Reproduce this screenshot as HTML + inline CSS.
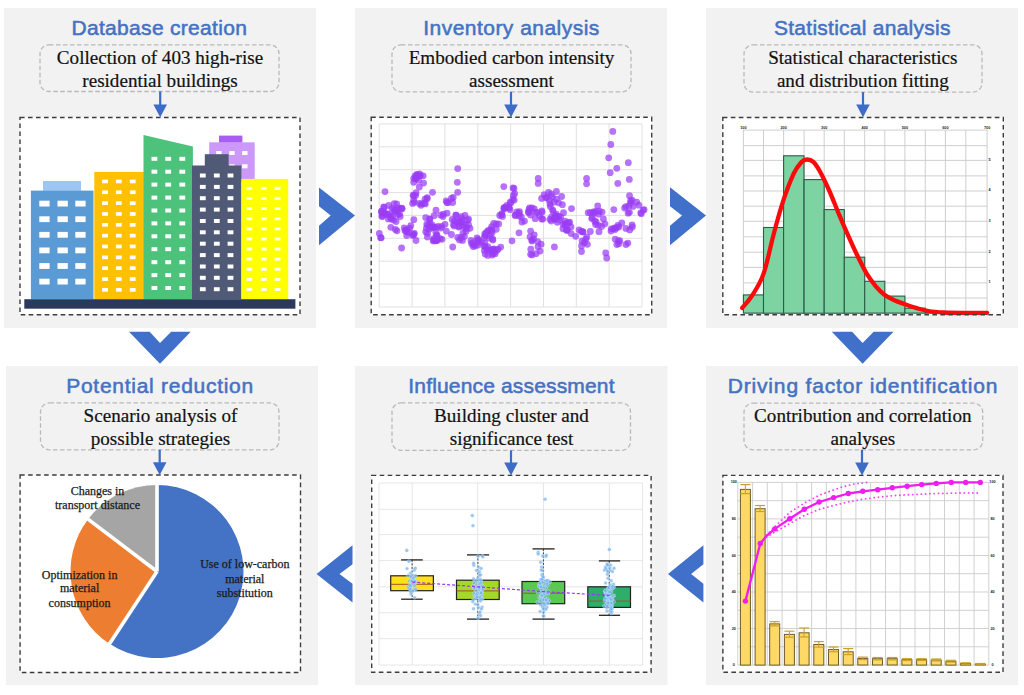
<!DOCTYPE html>
<html><head><meta charset="utf-8"><title>Embodied carbon workflow</title>
<style>
html,body{margin:0;padding:0;background:#fff;}
body{width:1024px;height:695px;overflow:hidden;}
svg{display:block;}
.ti{font-family:"Liberation Sans",Arial,sans-serif;font-size:21px;fill:#4472c4;stroke:#4472c4;stroke-width:0.55px;}
.bt{font-family:"Liberation Serif","Times New Roman",serif;font-size:19.1px;fill:#111;stroke:#111;stroke-width:0.2px;text-anchor:middle;}
.tk{font-family:"Liberation Sans",Arial,sans-serif;font-size:3.8px;font-weight:bold;fill:#222;text-anchor:middle;}
.pl{font-family:"Liberation Serif","Times New Roman",serif;font-size:12px;fill:#1a1a1a;stroke:#1a1a1a;stroke-width:0.25px;text-anchor:middle;}
</style></head>
<body>
<svg width="1024" height="695" viewBox="0 0 1024 695">
<rect x="4" y="8" width="312" height="320" fill="#f2f2f2"/>
<rect x="355" y="8" width="312" height="320" fill="#f2f2f2"/>
<rect x="706" y="8" width="312" height="320" fill="#f2f2f2"/>
<rect x="6" y="366" width="312" height="319" fill="#f2f2f2"/>
<rect x="355" y="366" width="312.5" height="319" fill="#f2f2f2"/>
<rect x="706" y="366" width="312" height="319" fill="#f2f2f2"/>
<text x="71.5" y="34.9" class="ti" textLength="175.4" lengthAdjust="spacing">Database creation</text>
<text x="423.2" y="34.9" class="ti" textLength="176.1" lengthAdjust="spacing">Inventory analysis</text>
<text x="774" y="34.9" class="ti" textLength="176.4" lengthAdjust="spacing">Statistical analysis</text>
<text x="66.2" y="392.9" class="ti" textLength="187" lengthAdjust="spacing">Potential reduction</text>
<text x="408.3" y="392.9" class="ti" textLength="206.2" lengthAdjust="spacing">Influence assessment</text>
<text x="727.7" y="392.9" class="ti" textLength="269.7" lengthAdjust="spacing">Driving factor identification</text>
<rect x="40" y="44.8" width="239" height="46.7" rx="9" ry="9" fill="none" stroke="#b9b9b9" stroke-width="1.3" stroke-dasharray="4.5 2.5"/>
<rect x="392" y="44.8" width="239" height="47" rx="9" ry="9" fill="none" stroke="#b9b9b9" stroke-width="1.3" stroke-dasharray="4.5 2.5"/>
<rect x="744" y="44.8" width="238" height="47.3" rx="9" ry="9" fill="none" stroke="#b9b9b9" stroke-width="1.3" stroke-dasharray="4.5 2.5"/>
<rect x="40.5" y="402.9" width="238.5" height="46.9" rx="9" ry="9" fill="none" stroke="#b9b9b9" stroke-width="1.3" stroke-dasharray="4.5 2.5"/>
<rect x="392" y="402.9" width="238.5" height="47.5" rx="9" ry="9" fill="none" stroke="#b9b9b9" stroke-width="1.3" stroke-dasharray="4.5 2.5"/>
<rect x="744" y="403.2" width="238.7" height="46.6" rx="9" ry="9" fill="none" stroke="#b9b9b9" stroke-width="1.3" stroke-dasharray="4.5 2.5"/>
<text x="160" y="64" class="bt">Collection of 403 high-rise</text>
<text x="160" y="86.7" class="bt">residential buildings</text>
<text x="511.5" y="64" class="bt">Embodied carbon intensity</text>
<text x="511.5" y="86.7" class="bt">assessment</text>
<text x="862.8" y="64" class="bt">Statistical characteristics</text>
<text x="862.8" y="86.7" class="bt">and distribution fitting</text>
<text x="160.5" y="422" class="bt">Scenario analysis of</text>
<text x="160.5" y="444.7" class="bt">possible strategies</text>
<text x="511.5" y="422" class="bt">Building cluster and</text>
<text x="511.5" y="444.7" class="bt">significance test</text>
<text x="862.8" y="422" class="bt">Contribution and correlation</text>
<text x="862.8" y="444.7" class="bt">analyses</text>
<rect x="159.1" y="91.5" width="2.2" height="13.5" fill="#3d6cc8"/>
<path d="M153.4 104.5L167 104.5L160.2 117.3Z" fill="#3d6cc8"/>
<rect x="509.9" y="91.8" width="2.2" height="13.2" fill="#3d6cc8"/>
<path d="M504.2 104.5L517.8 104.5L511 117.3Z" fill="#3d6cc8"/>
<rect x="861.9" y="92.1" width="2.2" height="12.9" fill="#3d6cc8"/>
<path d="M856.2 104.5L869.8 104.5L863 117.3Z" fill="#3d6cc8"/>
<rect x="158.6" y="449.8" width="2.2" height="12.9" fill="#3d6cc8"/>
<path d="M152.9 462.2L166.5 462.2L159.7 475Z" fill="#3d6cc8"/>
<rect x="509.9" y="450.4" width="2.2" height="12.7" fill="#3d6cc8"/>
<path d="M504.2 462.6L517.8 462.6L511 475.4Z" fill="#3d6cc8"/>
<rect x="860.9" y="449.8" width="2.2" height="13.3" fill="#3d6cc8"/>
<path d="M855.2 462.6L868.8 462.6L862 475.4Z" fill="#3d6cc8"/>
<rect x="20" y="117.5" width="280" height="197.3" fill="#ffffff"/>
<rect x="371.2" y="117.3" width="280.5" height="197.5" fill="#ffffff"/>
<rect x="722.8" y="117.5" width="280.5" height="197.2" fill="#ffffff"/>
<rect x="20.1" y="475" width="280.4" height="197.5" fill="#ffffff"/>
<rect x="371.7" y="475.4" width="279.4" height="196.9" fill="#ffffff"/>
<rect x="722.9" y="475.4" width="280.1" height="196.9" fill="#ffffff"/>
<polygon points="319,187.5 355,215.4 319,245.2 319,225.7 330.7,215.4 319,206.3" fill="#4070c9"/>
<polygon points="670,187.2 706,215.4 670,245.2 670,225.7 682,215.4 670,206.3" fill="#4070c9"/>
<polygon points="129,331.7 149.7,331.7 160,343 171.2,331.7 190.7,331.7 160,363.7" fill="#4070c9"/>
<polygon points="831.8,331.7 852.1,331.7 862.6,343 873.7,331.7 893.5,331.7 862.6,363.7" fill="#4070c9"/>
<polygon points="316.5,574 352.5,545.3 352.5,564.3 339.5,574 352.5,583.8 352.5,602.6" fill="#4070c9"/>
<polygon points="668,574 703.4,545.3 703.4,564.3 691.1,574 703.4,583.8 703.4,602.6" fill="#4070c9"/>
<rect x="209.2" y="142.3" width="45.5" height="40" fill="#cc99fa"/>
<rect x="219" y="135.6" width="23.4" height="6.8" fill="#a95ef2"/>
<rect x="216.2" y="151" width="5.4" height="4" fill="#ffffff"/>
<rect x="229.3" y="151" width="5.4" height="4" fill="#ffffff"/>
<rect x="242.1" y="151" width="5.4" height="4" fill="#ffffff"/>
<rect x="229.3" y="164.3" width="5.4" height="4" fill="#ffffff"/>
<rect x="242.1" y="164.3" width="5.4" height="4" fill="#ffffff"/>
<rect x="43" y="181" width="38" height="9.8" fill="#9dc6f2"/>
<rect x="30.9" y="190.6" width="62.6" height="108.6" fill="#5b9bd5"/>
<rect x="39.3" y="200.7" width="10.3" height="5.8" fill="#ffffff"/>
<rect x="57.5" y="200.7" width="10.3" height="5.8" fill="#ffffff"/>
<rect x="75.3" y="200.7" width="10.3" height="5.8" fill="#ffffff"/>
<rect x="39.3" y="216.3" width="10.3" height="5.8" fill="#ffffff"/>
<rect x="57.5" y="216.3" width="10.3" height="5.8" fill="#ffffff"/>
<rect x="75.3" y="216.3" width="10.3" height="5.8" fill="#ffffff"/>
<rect x="39.3" y="231.9" width="10.3" height="5.8" fill="#ffffff"/>
<rect x="57.5" y="231.9" width="10.3" height="5.8" fill="#ffffff"/>
<rect x="75.3" y="231.9" width="10.3" height="5.8" fill="#ffffff"/>
<rect x="39.3" y="247.5" width="10.3" height="5.8" fill="#ffffff"/>
<rect x="57.5" y="247.5" width="10.3" height="5.8" fill="#ffffff"/>
<rect x="75.3" y="247.5" width="10.3" height="5.8" fill="#ffffff"/>
<rect x="39.3" y="263.1" width="10.3" height="5.8" fill="#ffffff"/>
<rect x="57.5" y="263.1" width="10.3" height="5.8" fill="#ffffff"/>
<rect x="75.3" y="263.1" width="10.3" height="5.8" fill="#ffffff"/>
<rect x="39.3" y="278.7" width="10.3" height="5.8" fill="#ffffff"/>
<rect x="57.5" y="278.7" width="10.3" height="5.8" fill="#ffffff"/>
<rect x="75.3" y="278.7" width="10.3" height="5.8" fill="#ffffff"/>
<rect x="94.3" y="171.9" width="49.6" height="127.3" fill="#ffc000"/>
<rect x="102.1" y="179.6" width="5.8" height="3.7" fill="#ffffff"/>
<rect x="115.9" y="179.6" width="5.8" height="3.7" fill="#ffffff"/>
<rect x="129.8" y="179.6" width="5.8" height="3.7" fill="#ffffff"/>
<rect x="102.1" y="190.4" width="5.8" height="3.7" fill="#ffffff"/>
<rect x="115.9" y="190.4" width="5.8" height="3.7" fill="#ffffff"/>
<rect x="129.8" y="190.4" width="5.8" height="3.7" fill="#ffffff"/>
<rect x="102.1" y="201.3" width="5.8" height="3.7" fill="#ffffff"/>
<rect x="115.9" y="201.3" width="5.8" height="3.7" fill="#ffffff"/>
<rect x="129.8" y="201.3" width="5.8" height="3.7" fill="#ffffff"/>
<rect x="102.1" y="212.1" width="5.8" height="3.7" fill="#ffffff"/>
<rect x="115.9" y="212.1" width="5.8" height="3.7" fill="#ffffff"/>
<rect x="129.8" y="212.1" width="5.8" height="3.7" fill="#ffffff"/>
<rect x="102.1" y="223" width="5.8" height="3.7" fill="#ffffff"/>
<rect x="115.9" y="223" width="5.8" height="3.7" fill="#ffffff"/>
<rect x="129.8" y="223" width="5.8" height="3.7" fill="#ffffff"/>
<rect x="102.1" y="233.8" width="5.8" height="3.7" fill="#ffffff"/>
<rect x="115.9" y="233.8" width="5.8" height="3.7" fill="#ffffff"/>
<rect x="129.8" y="233.8" width="5.8" height="3.7" fill="#ffffff"/>
<rect x="102.1" y="244.6" width="5.8" height="3.7" fill="#ffffff"/>
<rect x="115.9" y="244.6" width="5.8" height="3.7" fill="#ffffff"/>
<rect x="129.8" y="244.6" width="5.8" height="3.7" fill="#ffffff"/>
<rect x="102.1" y="255.5" width="5.8" height="3.7" fill="#ffffff"/>
<rect x="115.9" y="255.5" width="5.8" height="3.7" fill="#ffffff"/>
<rect x="129.8" y="255.5" width="5.8" height="3.7" fill="#ffffff"/>
<rect x="102.1" y="266.3" width="5.8" height="3.7" fill="#ffffff"/>
<rect x="115.9" y="266.3" width="5.8" height="3.7" fill="#ffffff"/>
<rect x="129.8" y="266.3" width="5.8" height="3.7" fill="#ffffff"/>
<rect x="102.1" y="277.2" width="5.8" height="3.7" fill="#ffffff"/>
<rect x="115.9" y="277.2" width="5.8" height="3.7" fill="#ffffff"/>
<rect x="129.8" y="277.2" width="5.8" height="3.7" fill="#ffffff"/>
<rect x="102.1" y="288" width="5.8" height="3.7" fill="#ffffff"/>
<rect x="115.9" y="288" width="5.8" height="3.7" fill="#ffffff"/>
<rect x="129.8" y="288" width="5.8" height="3.7" fill="#ffffff"/>
<polygon points="143.5,135 192.9,146.5 192.9,299.2 143.5,299.2" fill="#4cc27b"/>
<rect x="151.5" y="156.8" width="5.8" height="4" fill="#ffffff"/>
<rect x="165.3" y="156.8" width="5.8" height="4" fill="#ffffff"/>
<rect x="179.4" y="156.8" width="5.8" height="4" fill="#ffffff"/>
<rect x="151.5" y="169.7" width="5.8" height="4" fill="#ffffff"/>
<rect x="165.3" y="169.7" width="5.8" height="4" fill="#ffffff"/>
<rect x="179.4" y="169.7" width="5.8" height="4" fill="#ffffff"/>
<rect x="151.5" y="182.6" width="5.8" height="4" fill="#ffffff"/>
<rect x="165.3" y="182.6" width="5.8" height="4" fill="#ffffff"/>
<rect x="179.4" y="182.6" width="5.8" height="4" fill="#ffffff"/>
<rect x="151.5" y="195.6" width="5.8" height="4" fill="#ffffff"/>
<rect x="165.3" y="195.6" width="5.8" height="4" fill="#ffffff"/>
<rect x="179.4" y="195.6" width="5.8" height="4" fill="#ffffff"/>
<rect x="151.5" y="208.5" width="5.8" height="4" fill="#ffffff"/>
<rect x="165.3" y="208.5" width="5.8" height="4" fill="#ffffff"/>
<rect x="179.4" y="208.5" width="5.8" height="4" fill="#ffffff"/>
<rect x="151.5" y="221.4" width="5.8" height="4" fill="#ffffff"/>
<rect x="165.3" y="221.4" width="5.8" height="4" fill="#ffffff"/>
<rect x="179.4" y="221.4" width="5.8" height="4" fill="#ffffff"/>
<rect x="151.5" y="234.3" width="5.8" height="4" fill="#ffffff"/>
<rect x="165.3" y="234.3" width="5.8" height="4" fill="#ffffff"/>
<rect x="179.4" y="234.3" width="5.8" height="4" fill="#ffffff"/>
<rect x="151.5" y="247.2" width="5.8" height="4" fill="#ffffff"/>
<rect x="165.3" y="247.2" width="5.8" height="4" fill="#ffffff"/>
<rect x="179.4" y="247.2" width="5.8" height="4" fill="#ffffff"/>
<rect x="151.5" y="260.2" width="5.8" height="4" fill="#ffffff"/>
<rect x="165.3" y="260.2" width="5.8" height="4" fill="#ffffff"/>
<rect x="179.4" y="260.2" width="5.8" height="4" fill="#ffffff"/>
<rect x="151.5" y="273.1" width="5.8" height="4" fill="#ffffff"/>
<rect x="165.3" y="273.1" width="5.8" height="4" fill="#ffffff"/>
<rect x="179.4" y="273.1" width="5.8" height="4" fill="#ffffff"/>
<rect x="151.5" y="286" width="5.8" height="4" fill="#ffffff"/>
<rect x="165.3" y="286" width="5.8" height="4" fill="#ffffff"/>
<rect x="179.4" y="286" width="5.8" height="4" fill="#ffffff"/>
<rect x="204.8" y="154.2" width="23.8" height="12" fill="#505a77"/>
<rect x="192" y="165.5" width="49.4" height="133.7" fill="#505a77"/>
<rect x="199.9" y="173.5" width="5.8" height="4" fill="#ffffff"/>
<rect x="213.9" y="173.5" width="5.8" height="4" fill="#ffffff"/>
<rect x="227.6" y="173.5" width="5.8" height="4" fill="#ffffff"/>
<rect x="199.9" y="184.9" width="5.8" height="4" fill="#ffffff"/>
<rect x="213.9" y="184.9" width="5.8" height="4" fill="#ffffff"/>
<rect x="227.6" y="184.9" width="5.8" height="4" fill="#ffffff"/>
<rect x="199.9" y="196.2" width="5.8" height="4" fill="#ffffff"/>
<rect x="213.9" y="196.2" width="5.8" height="4" fill="#ffffff"/>
<rect x="227.6" y="196.2" width="5.8" height="4" fill="#ffffff"/>
<rect x="199.9" y="207.6" width="5.8" height="4" fill="#ffffff"/>
<rect x="213.9" y="207.6" width="5.8" height="4" fill="#ffffff"/>
<rect x="227.6" y="207.6" width="5.8" height="4" fill="#ffffff"/>
<rect x="199.9" y="219" width="5.8" height="4" fill="#ffffff"/>
<rect x="213.9" y="219" width="5.8" height="4" fill="#ffffff"/>
<rect x="227.6" y="219" width="5.8" height="4" fill="#ffffff"/>
<rect x="199.9" y="230.3" width="5.8" height="4" fill="#ffffff"/>
<rect x="213.9" y="230.3" width="5.8" height="4" fill="#ffffff"/>
<rect x="227.6" y="230.3" width="5.8" height="4" fill="#ffffff"/>
<rect x="199.9" y="241.7" width="5.8" height="4" fill="#ffffff"/>
<rect x="213.9" y="241.7" width="5.8" height="4" fill="#ffffff"/>
<rect x="227.6" y="241.7" width="5.8" height="4" fill="#ffffff"/>
<rect x="199.9" y="253.1" width="5.8" height="4" fill="#ffffff"/>
<rect x="213.9" y="253.1" width="5.8" height="4" fill="#ffffff"/>
<rect x="227.6" y="253.1" width="5.8" height="4" fill="#ffffff"/>
<rect x="199.9" y="264.5" width="5.8" height="4" fill="#ffffff"/>
<rect x="213.9" y="264.5" width="5.8" height="4" fill="#ffffff"/>
<rect x="227.6" y="264.5" width="5.8" height="4" fill="#ffffff"/>
<rect x="199.9" y="275.8" width="5.8" height="4" fill="#ffffff"/>
<rect x="213.9" y="275.8" width="5.8" height="4" fill="#ffffff"/>
<rect x="227.6" y="275.8" width="5.8" height="4" fill="#ffffff"/>
<rect x="199.9" y="287.2" width="5.8" height="4" fill="#ffffff"/>
<rect x="213.9" y="287.2" width="5.8" height="4" fill="#ffffff"/>
<rect x="227.6" y="287.2" width="5.8" height="4" fill="#ffffff"/>
<rect x="241.4" y="178.9" width="46.8" height="120.3" fill="#ffff00"/>
<rect x="246.5" y="186.8" width="5.7" height="3" fill="#ffffff"/>
<rect x="260.9" y="186.8" width="5.7" height="3" fill="#ffffff"/>
<rect x="274.7" y="186.8" width="5.7" height="3" fill="#ffffff"/>
<rect x="246.5" y="196.9" width="5.7" height="3" fill="#ffffff"/>
<rect x="260.9" y="196.9" width="5.7" height="3" fill="#ffffff"/>
<rect x="274.7" y="196.9" width="5.7" height="3" fill="#ffffff"/>
<rect x="246.5" y="207" width="5.7" height="3" fill="#ffffff"/>
<rect x="260.9" y="207" width="5.7" height="3" fill="#ffffff"/>
<rect x="274.7" y="207" width="5.7" height="3" fill="#ffffff"/>
<rect x="246.5" y="217.2" width="5.7" height="3" fill="#ffffff"/>
<rect x="260.9" y="217.2" width="5.7" height="3" fill="#ffffff"/>
<rect x="274.7" y="217.2" width="5.7" height="3" fill="#ffffff"/>
<rect x="246.5" y="227.3" width="5.7" height="3" fill="#ffffff"/>
<rect x="260.9" y="227.3" width="5.7" height="3" fill="#ffffff"/>
<rect x="274.7" y="227.3" width="5.7" height="3" fill="#ffffff"/>
<rect x="246.5" y="237.4" width="5.7" height="3" fill="#ffffff"/>
<rect x="260.9" y="237.4" width="5.7" height="3" fill="#ffffff"/>
<rect x="274.7" y="237.4" width="5.7" height="3" fill="#ffffff"/>
<rect x="246.5" y="247.5" width="5.7" height="3" fill="#ffffff"/>
<rect x="260.9" y="247.5" width="5.7" height="3" fill="#ffffff"/>
<rect x="274.7" y="247.5" width="5.7" height="3" fill="#ffffff"/>
<rect x="246.5" y="257.6" width="5.7" height="3" fill="#ffffff"/>
<rect x="260.9" y="257.6" width="5.7" height="3" fill="#ffffff"/>
<rect x="274.7" y="257.6" width="5.7" height="3" fill="#ffffff"/>
<rect x="246.5" y="267.8" width="5.7" height="3" fill="#ffffff"/>
<rect x="260.9" y="267.8" width="5.7" height="3" fill="#ffffff"/>
<rect x="274.7" y="267.8" width="5.7" height="3" fill="#ffffff"/>
<rect x="246.5" y="277.9" width="5.7" height="3" fill="#ffffff"/>
<rect x="260.9" y="277.9" width="5.7" height="3" fill="#ffffff"/>
<rect x="274.7" y="277.9" width="5.7" height="3" fill="#ffffff"/>
<rect x="246.5" y="288" width="5.7" height="3" fill="#ffffff"/>
<rect x="260.9" y="288" width="5.7" height="3" fill="#ffffff"/>
<rect x="274.7" y="288" width="5.7" height="3" fill="#ffffff"/>
<rect x="24.3" y="299.2" width="271.1" height="9.5" fill="#2b3a5c"/>
<line x1="379.2" y1="123.9" x2="379.2" y2="307" stroke="#d9d9d9" stroke-width="0.8"/>
<line x1="412.1" y1="123.9" x2="412.1" y2="307" stroke="#d9d9d9" stroke-width="0.8"/>
<line x1="444.9" y1="123.9" x2="444.9" y2="307" stroke="#d9d9d9" stroke-width="0.8"/>
<line x1="477.8" y1="123.9" x2="477.8" y2="307" stroke="#d9d9d9" stroke-width="0.8"/>
<line x1="510.6" y1="123.9" x2="510.6" y2="307" stroke="#d9d9d9" stroke-width="0.8"/>
<line x1="543.5" y1="123.9" x2="543.5" y2="307" stroke="#d9d9d9" stroke-width="0.8"/>
<line x1="576.3" y1="123.9" x2="576.3" y2="307" stroke="#d9d9d9" stroke-width="0.8"/>
<line x1="609.1" y1="123.9" x2="609.1" y2="307" stroke="#d9d9d9" stroke-width="0.8"/>
<line x1="642" y1="123.9" x2="642" y2="307" stroke="#d9d9d9" stroke-width="0.8"/>
<line x1="379.2" y1="123.9" x2="642" y2="123.9" stroke="#d9d9d9" stroke-width="0.8"/>
<line x1="379.2" y1="146.8" x2="642" y2="146.8" stroke="#d9d9d9" stroke-width="0.8"/>
<line x1="379.2" y1="169.7" x2="642" y2="169.7" stroke="#d9d9d9" stroke-width="0.8"/>
<line x1="379.2" y1="192.6" x2="642" y2="192.6" stroke="#d9d9d9" stroke-width="0.8"/>
<line x1="379.2" y1="215.4" x2="642" y2="215.4" stroke="#d9d9d9" stroke-width="0.8"/>
<line x1="379.2" y1="238.3" x2="642" y2="238.3" stroke="#d9d9d9" stroke-width="0.8"/>
<line x1="379.2" y1="261.2" x2="642" y2="261.2" stroke="#d9d9d9" stroke-width="0.8"/>
<line x1="379.2" y1="284.1" x2="642" y2="284.1" stroke="#d9d9d9" stroke-width="0.8"/>
<line x1="379.2" y1="307" x2="642" y2="307" stroke="#d9d9d9" stroke-width="0.8"/>
<circle cx="446.2" cy="200.9" r="3.4" fill="#9a3cf5" fill-opacity="0.72"/>
<circle cx="640.8" cy="212.8" r="3.4" fill="#9a3cf5" fill-opacity="0.72"/>
<circle cx="427.6" cy="233.3" r="3.4" fill="#9a3cf5" fill-opacity="0.72"/>
<circle cx="435.5" cy="227.2" r="3.4" fill="#9a3cf5" fill-opacity="0.72"/>
<circle cx="561.6" cy="196.5" r="3.4" fill="#9a3cf5" fill-opacity="0.72"/>
<circle cx="556.6" cy="216.9" r="3.4" fill="#9a3cf5" fill-opacity="0.72"/>
<circle cx="503.8" cy="208.2" r="3.4" fill="#9a3cf5" fill-opacity="0.72"/>
<circle cx="415.8" cy="178.6" r="3.4" fill="#9a3cf5" fill-opacity="0.72"/>
<circle cx="585.9" cy="239.1" r="3.4" fill="#9a3cf5" fill-opacity="0.72"/>
<circle cx="396.1" cy="221.5" r="3.4" fill="#9a3cf5" fill-opacity="0.72"/>
<circle cx="460.2" cy="221.8" r="3.4" fill="#9a3cf5" fill-opacity="0.72"/>
<circle cx="608.7" cy="157.8" r="3.4" fill="#9a3cf5" fill-opacity="0.72"/>
<circle cx="475.2" cy="246.1" r="3.4" fill="#9a3cf5" fill-opacity="0.72"/>
<circle cx="413.7" cy="199.8" r="3.4" fill="#9a3cf5" fill-opacity="0.72"/>
<circle cx="425" cy="199.2" r="3.4" fill="#9a3cf5" fill-opacity="0.72"/>
<circle cx="554.2" cy="218.1" r="3.4" fill="#9a3cf5" fill-opacity="0.72"/>
<circle cx="625.9" cy="206.6" r="3.4" fill="#9a3cf5" fill-opacity="0.72"/>
<circle cx="515.1" cy="215.5" r="3.4" fill="#9a3cf5" fill-opacity="0.72"/>
<circle cx="519.4" cy="211.7" r="3.4" fill="#9a3cf5" fill-opacity="0.72"/>
<circle cx="379.3" cy="233.5" r="3.4" fill="#9a3cf5" fill-opacity="0.72"/>
<circle cx="504.6" cy="207.5" r="3.4" fill="#9a3cf5" fill-opacity="0.72"/>
<circle cx="556.2" cy="214.1" r="3.4" fill="#9a3cf5" fill-opacity="0.72"/>
<circle cx="392.4" cy="215.8" r="3.4" fill="#9a3cf5" fill-opacity="0.72"/>
<circle cx="530.6" cy="231.1" r="3.4" fill="#9a3cf5" fill-opacity="0.72"/>
<circle cx="519.3" cy="216" r="3.4" fill="#9a3cf5" fill-opacity="0.72"/>
<circle cx="563.5" cy="212.7" r="3.4" fill="#9a3cf5" fill-opacity="0.72"/>
<circle cx="632.1" cy="200.1" r="3.4" fill="#9a3cf5" fill-opacity="0.72"/>
<circle cx="581.5" cy="251.5" r="3.4" fill="#9a3cf5" fill-opacity="0.72"/>
<circle cx="382.3" cy="216.6" r="3.4" fill="#9a3cf5" fill-opacity="0.72"/>
<circle cx="551.2" cy="194" r="3.4" fill="#9a3cf5" fill-opacity="0.72"/>
<circle cx="443.3" cy="214.1" r="3.4" fill="#9a3cf5" fill-opacity="0.72"/>
<circle cx="629.7" cy="229.9" r="3.4" fill="#9a3cf5" fill-opacity="0.72"/>
<circle cx="550.3" cy="206.4" r="3.4" fill="#9a3cf5" fill-opacity="0.72"/>
<circle cx="558.7" cy="202.8" r="3.4" fill="#9a3cf5" fill-opacity="0.72"/>
<circle cx="388.3" cy="218.9" r="3.4" fill="#9a3cf5" fill-opacity="0.72"/>
<circle cx="510.8" cy="203" r="3.4" fill="#9a3cf5" fill-opacity="0.72"/>
<circle cx="562.4" cy="204.7" r="3.4" fill="#9a3cf5" fill-opacity="0.72"/>
<circle cx="644.1" cy="209.7" r="3.4" fill="#9a3cf5" fill-opacity="0.72"/>
<circle cx="495.1" cy="253.8" r="3.4" fill="#9a3cf5" fill-opacity="0.72"/>
<circle cx="541.6" cy="198.4" r="3.4" fill="#9a3cf5" fill-opacity="0.72"/>
<circle cx="556.4" cy="191.5" r="3.4" fill="#9a3cf5" fill-opacity="0.72"/>
<circle cx="581.5" cy="245.9" r="3.4" fill="#9a3cf5" fill-opacity="0.72"/>
<circle cx="384.5" cy="212.3" r="3.4" fill="#9a3cf5" fill-opacity="0.72"/>
<circle cx="466.7" cy="228.5" r="3.4" fill="#9a3cf5" fill-opacity="0.72"/>
<circle cx="395.4" cy="229.4" r="3.4" fill="#9a3cf5" fill-opacity="0.72"/>
<circle cx="492.8" cy="253.5" r="3.4" fill="#9a3cf5" fill-opacity="0.72"/>
<circle cx="624.6" cy="208" r="3.4" fill="#9a3cf5" fill-opacity="0.72"/>
<circle cx="416.1" cy="192.7" r="3.4" fill="#9a3cf5" fill-opacity="0.72"/>
<circle cx="472.9" cy="242.7" r="3.4" fill="#9a3cf5" fill-opacity="0.72"/>
<circle cx="514" cy="188.5" r="3.4" fill="#9a3cf5" fill-opacity="0.72"/>
<circle cx="465" cy="215.5" r="3.4" fill="#9a3cf5" fill-opacity="0.72"/>
<circle cx="588.2" cy="212.7" r="3.4" fill="#9a3cf5" fill-opacity="0.72"/>
<circle cx="400.9" cy="208.1" r="3.4" fill="#9a3cf5" fill-opacity="0.72"/>
<circle cx="385" cy="191.6" r="3.4" fill="#9a3cf5" fill-opacity="0.72"/>
<circle cx="613.8" cy="209.6" r="3.4" fill="#9a3cf5" fill-opacity="0.72"/>
<circle cx="440.7" cy="215.2" r="3.4" fill="#9a3cf5" fill-opacity="0.72"/>
<circle cx="429.7" cy="218.8" r="3.4" fill="#9a3cf5" fill-opacity="0.72"/>
<circle cx="567.4" cy="230" r="3.4" fill="#9a3cf5" fill-opacity="0.72"/>
<circle cx="413.4" cy="234.6" r="3.4" fill="#9a3cf5" fill-opacity="0.72"/>
<circle cx="408.7" cy="232.4" r="3.4" fill="#9a3cf5" fill-opacity="0.72"/>
<circle cx="611" cy="231.1" r="3.4" fill="#9a3cf5" fill-opacity="0.72"/>
<circle cx="484.7" cy="234.1" r="3.4" fill="#9a3cf5" fill-opacity="0.72"/>
<circle cx="512" cy="240.8" r="3.4" fill="#9a3cf5" fill-opacity="0.72"/>
<circle cx="381.4" cy="211.7" r="3.4" fill="#9a3cf5" fill-opacity="0.72"/>
<circle cx="426.4" cy="228.1" r="3.4" fill="#9a3cf5" fill-opacity="0.72"/>
<circle cx="602.1" cy="212.1" r="3.4" fill="#9a3cf5" fill-opacity="0.72"/>
<circle cx="504.2" cy="209.1" r="3.4" fill="#9a3cf5" fill-opacity="0.72"/>
<circle cx="596.1" cy="222" r="3.4" fill="#9a3cf5" fill-opacity="0.72"/>
<circle cx="616.8" cy="168.3" r="3.4" fill="#9a3cf5" fill-opacity="0.72"/>
<circle cx="462.5" cy="240.4" r="3.4" fill="#9a3cf5" fill-opacity="0.72"/>
<circle cx="553.9" cy="202.2" r="3.4" fill="#9a3cf5" fill-opacity="0.72"/>
<circle cx="629.3" cy="179.4" r="3.4" fill="#9a3cf5" fill-opacity="0.72"/>
<circle cx="493.3" cy="249.8" r="3.4" fill="#9a3cf5" fill-opacity="0.72"/>
<circle cx="487.8" cy="255.4" r="3.4" fill="#9a3cf5" fill-opacity="0.72"/>
<circle cx="473.1" cy="246.6" r="3.4" fill="#9a3cf5" fill-opacity="0.72"/>
<circle cx="509.1" cy="207.9" r="3.4" fill="#9a3cf5" fill-opacity="0.72"/>
<circle cx="493.9" cy="248.8" r="3.4" fill="#9a3cf5" fill-opacity="0.72"/>
<circle cx="566.6" cy="229.9" r="3.4" fill="#9a3cf5" fill-opacity="0.72"/>
<circle cx="441.8" cy="226.4" r="3.4" fill="#9a3cf5" fill-opacity="0.72"/>
<circle cx="459" cy="226.4" r="3.4" fill="#9a3cf5" fill-opacity="0.72"/>
<circle cx="454.3" cy="221.1" r="3.4" fill="#9a3cf5" fill-opacity="0.72"/>
<circle cx="521.3" cy="217" r="3.4" fill="#9a3cf5" fill-opacity="0.72"/>
<circle cx="484.2" cy="246.1" r="3.4" fill="#9a3cf5" fill-opacity="0.72"/>
<circle cx="538.2" cy="183.4" r="3.4" fill="#9a3cf5" fill-opacity="0.72"/>
<circle cx="436.9" cy="234.8" r="3.4" fill="#9a3cf5" fill-opacity="0.72"/>
<circle cx="530.8" cy="249.2" r="3.4" fill="#9a3cf5" fill-opacity="0.72"/>
<circle cx="434" cy="238.5" r="3.4" fill="#9a3cf5" fill-opacity="0.72"/>
<circle cx="571.5" cy="208.6" r="3.4" fill="#9a3cf5" fill-opacity="0.72"/>
<circle cx="451.4" cy="234.5" r="3.4" fill="#9a3cf5" fill-opacity="0.72"/>
<circle cx="402.2" cy="208.7" r="3.4" fill="#9a3cf5" fill-opacity="0.72"/>
<circle cx="558.6" cy="216.3" r="3.4" fill="#9a3cf5" fill-opacity="0.72"/>
<circle cx="595.7" cy="211.4" r="3.4" fill="#9a3cf5" fill-opacity="0.72"/>
<circle cx="429.5" cy="229" r="3.4" fill="#9a3cf5" fill-opacity="0.72"/>
<circle cx="553.1" cy="211.5" r="3.4" fill="#9a3cf5" fill-opacity="0.72"/>
<circle cx="429.8" cy="219.3" r="3.4" fill="#9a3cf5" fill-opacity="0.72"/>
<circle cx="394.9" cy="210.4" r="3.4" fill="#9a3cf5" fill-opacity="0.72"/>
<circle cx="627.9" cy="243.1" r="3.4" fill="#9a3cf5" fill-opacity="0.72"/>
<circle cx="447" cy="213.2" r="3.4" fill="#9a3cf5" fill-opacity="0.72"/>
<circle cx="502.5" cy="216.4" r="3.4" fill="#9a3cf5" fill-opacity="0.72"/>
<circle cx="397" cy="230.8" r="3.4" fill="#9a3cf5" fill-opacity="0.72"/>
<circle cx="427.4" cy="237" r="3.4" fill="#9a3cf5" fill-opacity="0.72"/>
<circle cx="615.2" cy="229.5" r="3.4" fill="#9a3cf5" fill-opacity="0.72"/>
<circle cx="391.2" cy="219.1" r="3.4" fill="#9a3cf5" fill-opacity="0.72"/>
<circle cx="440.7" cy="228" r="3.4" fill="#9a3cf5" fill-opacity="0.72"/>
<circle cx="438.1" cy="226.3" r="3.4" fill="#9a3cf5" fill-opacity="0.72"/>
<circle cx="530.6" cy="254.3" r="3.4" fill="#9a3cf5" fill-opacity="0.72"/>
<circle cx="434.4" cy="227.3" r="3.4" fill="#9a3cf5" fill-opacity="0.72"/>
<circle cx="544.2" cy="194.7" r="3.4" fill="#9a3cf5" fill-opacity="0.72"/>
<circle cx="485.1" cy="246.8" r="3.4" fill="#9a3cf5" fill-opacity="0.72"/>
<circle cx="452.2" cy="219.4" r="3.4" fill="#9a3cf5" fill-opacity="0.72"/>
<circle cx="524.5" cy="221.1" r="3.4" fill="#9a3cf5" fill-opacity="0.72"/>
<circle cx="535.3" cy="212.3" r="3.4" fill="#9a3cf5" fill-opacity="0.72"/>
<circle cx="461.3" cy="216.6" r="3.4" fill="#9a3cf5" fill-opacity="0.72"/>
<circle cx="381.7" cy="211.2" r="3.4" fill="#9a3cf5" fill-opacity="0.72"/>
<circle cx="488.4" cy="230.5" r="3.4" fill="#9a3cf5" fill-opacity="0.72"/>
<circle cx="454.2" cy="226" r="3.4" fill="#9a3cf5" fill-opacity="0.72"/>
<circle cx="601.6" cy="226.4" r="3.4" fill="#9a3cf5" fill-opacity="0.72"/>
<circle cx="414.3" cy="202.3" r="3.4" fill="#9a3cf5" fill-opacity="0.72"/>
<circle cx="611.3" cy="228.8" r="3.4" fill="#9a3cf5" fill-opacity="0.72"/>
<circle cx="628.3" cy="162.7" r="3.4" fill="#9a3cf5" fill-opacity="0.72"/>
<circle cx="491.1" cy="250.6" r="3.4" fill="#9a3cf5" fill-opacity="0.72"/>
<circle cx="629.4" cy="212.3" r="3.4" fill="#9a3cf5" fill-opacity="0.72"/>
<circle cx="555.7" cy="215.9" r="3.4" fill="#9a3cf5" fill-opacity="0.72"/>
<circle cx="501.6" cy="214.7" r="3.4" fill="#9a3cf5" fill-opacity="0.72"/>
<circle cx="406.7" cy="235.6" r="3.4" fill="#9a3cf5" fill-opacity="0.72"/>
<circle cx="583" cy="232.1" r="3.4" fill="#9a3cf5" fill-opacity="0.72"/>
<circle cx="514.2" cy="200.1" r="3.4" fill="#9a3cf5" fill-opacity="0.72"/>
<circle cx="550" cy="203.9" r="3.4" fill="#9a3cf5" fill-opacity="0.72"/>
<circle cx="618.8" cy="227.1" r="3.4" fill="#9a3cf5" fill-opacity="0.72"/>
<circle cx="630.6" cy="200.7" r="3.4" fill="#9a3cf5" fill-opacity="0.72"/>
<circle cx="614.5" cy="228" r="3.4" fill="#9a3cf5" fill-opacity="0.72"/>
<circle cx="633" cy="206.4" r="3.4" fill="#9a3cf5" fill-opacity="0.72"/>
<circle cx="401.6" cy="248" r="3.4" fill="#9a3cf5" fill-opacity="0.72"/>
<circle cx="432.1" cy="224.8" r="3.4" fill="#9a3cf5" fill-opacity="0.72"/>
<circle cx="419.5" cy="174" r="3.4" fill="#9a3cf5" fill-opacity="0.72"/>
<circle cx="505" cy="207.7" r="3.4" fill="#9a3cf5" fill-opacity="0.72"/>
<circle cx="496.3" cy="224" r="3.4" fill="#9a3cf5" fill-opacity="0.72"/>
<circle cx="407.1" cy="229.8" r="3.4" fill="#9a3cf5" fill-opacity="0.72"/>
<circle cx="446.9" cy="202.6" r="3.4" fill="#9a3cf5" fill-opacity="0.72"/>
<circle cx="530.5" cy="215.1" r="3.4" fill="#9a3cf5" fill-opacity="0.72"/>
<circle cx="528.5" cy="212.5" r="3.4" fill="#9a3cf5" fill-opacity="0.72"/>
<circle cx="529" cy="209.5" r="3.4" fill="#9a3cf5" fill-opacity="0.72"/>
<circle cx="485.2" cy="254" r="3.4" fill="#9a3cf5" fill-opacity="0.72"/>
<circle cx="406.8" cy="231.8" r="3.4" fill="#9a3cf5" fill-opacity="0.72"/>
<circle cx="516.8" cy="211.9" r="3.4" fill="#9a3cf5" fill-opacity="0.72"/>
<circle cx="586.8" cy="236.9" r="3.4" fill="#9a3cf5" fill-opacity="0.72"/>
<circle cx="617.8" cy="183.4" r="3.4" fill="#9a3cf5" fill-opacity="0.72"/>
<circle cx="415.7" cy="178.4" r="3.4" fill="#9a3cf5" fill-opacity="0.72"/>
<circle cx="413.6" cy="195.6" r="3.4" fill="#9a3cf5" fill-opacity="0.72"/>
<circle cx="471" cy="240.4" r="3.4" fill="#9a3cf5" fill-opacity="0.72"/>
<circle cx="598.4" cy="225.3" r="3.4" fill="#9a3cf5" fill-opacity="0.72"/>
<circle cx="586.6" cy="183.8" r="3.4" fill="#9a3cf5" fill-opacity="0.72"/>
<circle cx="618" cy="225.4" r="3.4" fill="#9a3cf5" fill-opacity="0.72"/>
<circle cx="425.3" cy="203.9" r="3.4" fill="#9a3cf5" fill-opacity="0.72"/>
<circle cx="562.9" cy="228.8" r="3.4" fill="#9a3cf5" fill-opacity="0.72"/>
<circle cx="541.1" cy="244.2" r="3.4" fill="#9a3cf5" fill-opacity="0.72"/>
<circle cx="453.2" cy="197.4" r="3.4" fill="#9a3cf5" fill-opacity="0.72"/>
<circle cx="390.2" cy="215.9" r="3.4" fill="#9a3cf5" fill-opacity="0.72"/>
<circle cx="401.7" cy="208.3" r="3.4" fill="#9a3cf5" fill-opacity="0.72"/>
<circle cx="423.2" cy="175.8" r="3.4" fill="#9a3cf5" fill-opacity="0.72"/>
<circle cx="551.6" cy="217" r="3.4" fill="#9a3cf5" fill-opacity="0.72"/>
<circle cx="535.2" cy="218.7" r="3.4" fill="#9a3cf5" fill-opacity="0.72"/>
<circle cx="513" cy="188" r="3.4" fill="#9a3cf5" fill-opacity="0.72"/>
<circle cx="487" cy="249.1" r="3.4" fill="#9a3cf5" fill-opacity="0.72"/>
<circle cx="575.7" cy="236.3" r="3.4" fill="#9a3cf5" fill-opacity="0.72"/>
<circle cx="554.4" cy="219.6" r="3.4" fill="#9a3cf5" fill-opacity="0.72"/>
<circle cx="426.8" cy="224.2" r="3.4" fill="#9a3cf5" fill-opacity="0.72"/>
<circle cx="445" cy="224.3" r="3.4" fill="#9a3cf5" fill-opacity="0.72"/>
<circle cx="430" cy="223.5" r="3.4" fill="#9a3cf5" fill-opacity="0.72"/>
<circle cx="565" cy="221.1" r="3.4" fill="#9a3cf5" fill-opacity="0.72"/>
<circle cx="464.4" cy="236.4" r="3.4" fill="#9a3cf5" fill-opacity="0.72"/>
<circle cx="442" cy="239.3" r="3.4" fill="#9a3cf5" fill-opacity="0.72"/>
<circle cx="396.4" cy="209.9" r="3.4" fill="#9a3cf5" fill-opacity="0.72"/>
<circle cx="613.3" cy="228.8" r="3.4" fill="#9a3cf5" fill-opacity="0.72"/>
<circle cx="628.1" cy="213.2" r="3.4" fill="#9a3cf5" fill-opacity="0.72"/>
<circle cx="538.2" cy="178.4" r="3.4" fill="#9a3cf5" fill-opacity="0.72"/>
<circle cx="421.6" cy="203.8" r="3.4" fill="#9a3cf5" fill-opacity="0.72"/>
<circle cx="487.7" cy="231.3" r="3.4" fill="#9a3cf5" fill-opacity="0.72"/>
<circle cx="414.4" cy="233.3" r="3.4" fill="#9a3cf5" fill-opacity="0.72"/>
<circle cx="584.4" cy="242.7" r="3.4" fill="#9a3cf5" fill-opacity="0.72"/>
<circle cx="498.7" cy="223.9" r="3.4" fill="#9a3cf5" fill-opacity="0.72"/>
<circle cx="619.7" cy="240.7" r="3.4" fill="#9a3cf5" fill-opacity="0.72"/>
<circle cx="532" cy="240.1" r="3.4" fill="#9a3cf5" fill-opacity="0.72"/>
<circle cx="632.3" cy="227" r="3.4" fill="#9a3cf5" fill-opacity="0.72"/>
<circle cx="478.6" cy="239.6" r="3.4" fill="#9a3cf5" fill-opacity="0.72"/>
<circle cx="593.4" cy="211.9" r="3.4" fill="#9a3cf5" fill-opacity="0.72"/>
<circle cx="534.2" cy="234.8" r="3.4" fill="#9a3cf5" fill-opacity="0.72"/>
<circle cx="415.1" cy="175.8" r="3.4" fill="#9a3cf5" fill-opacity="0.72"/>
<circle cx="594" cy="212.9" r="3.4" fill="#9a3cf5" fill-opacity="0.72"/>
<circle cx="381.2" cy="237.8" r="3.4" fill="#9a3cf5" fill-opacity="0.72"/>
<circle cx="413.7" cy="182.3" r="3.4" fill="#9a3cf5" fill-opacity="0.72"/>
<circle cx="481.4" cy="241.8" r="3.4" fill="#9a3cf5" fill-opacity="0.72"/>
<circle cx="461.9" cy="218.6" r="3.4" fill="#9a3cf5" fill-opacity="0.72"/>
<circle cx="554.4" cy="246.9" r="3.4" fill="#9a3cf5" fill-opacity="0.72"/>
<circle cx="413.8" cy="219.7" r="3.4" fill="#9a3cf5" fill-opacity="0.72"/>
<circle cx="397.8" cy="214.4" r="3.4" fill="#9a3cf5" fill-opacity="0.72"/>
<circle cx="569.6" cy="222.2" r="3.4" fill="#9a3cf5" fill-opacity="0.72"/>
<circle cx="552.6" cy="209.8" r="3.4" fill="#9a3cf5" fill-opacity="0.72"/>
<circle cx="606.7" cy="258" r="3.4" fill="#9a3cf5" fill-opacity="0.72"/>
<circle cx="413.7" cy="234.4" r="3.4" fill="#9a3cf5" fill-opacity="0.72"/>
<circle cx="428" cy="225.3" r="3.4" fill="#9a3cf5" fill-opacity="0.72"/>
<circle cx="383.8" cy="206.9" r="3.4" fill="#9a3cf5" fill-opacity="0.72"/>
<circle cx="598.6" cy="214.2" r="3.4" fill="#9a3cf5" fill-opacity="0.72"/>
<circle cx="388.5" cy="214.2" r="3.4" fill="#9a3cf5" fill-opacity="0.72"/>
<circle cx="603.4" cy="219" r="3.4" fill="#9a3cf5" fill-opacity="0.72"/>
<circle cx="643.2" cy="210.1" r="3.4" fill="#9a3cf5" fill-opacity="0.72"/>
<circle cx="568.8" cy="223" r="3.4" fill="#9a3cf5" fill-opacity="0.72"/>
<circle cx="423.6" cy="183.1" r="3.4" fill="#9a3cf5" fill-opacity="0.72"/>
<circle cx="453.5" cy="224.7" r="3.4" fill="#9a3cf5" fill-opacity="0.72"/>
<circle cx="587.4" cy="244.3" r="3.4" fill="#9a3cf5" fill-opacity="0.72"/>
<circle cx="456" cy="215.1" r="3.4" fill="#9a3cf5" fill-opacity="0.72"/>
<circle cx="477" cy="237.9" r="3.4" fill="#9a3cf5" fill-opacity="0.72"/>
<circle cx="621.8" cy="223" r="3.4" fill="#9a3cf5" fill-opacity="0.72"/>
<circle cx="615.2" cy="239.2" r="3.4" fill="#9a3cf5" fill-opacity="0.72"/>
<circle cx="532" cy="254.9" r="3.4" fill="#9a3cf5" fill-opacity="0.72"/>
<circle cx="459.1" cy="222" r="3.4" fill="#9a3cf5" fill-opacity="0.72"/>
<circle cx="432.1" cy="227.8" r="3.4" fill="#9a3cf5" fill-opacity="0.72"/>
<circle cx="467.3" cy="220.2" r="3.4" fill="#9a3cf5" fill-opacity="0.72"/>
<circle cx="519.2" cy="213.1" r="3.4" fill="#9a3cf5" fill-opacity="0.72"/>
<circle cx="513.3" cy="195.5" r="3.4" fill="#9a3cf5" fill-opacity="0.72"/>
<circle cx="397.4" cy="211" r="3.4" fill="#9a3cf5" fill-opacity="0.72"/>
<circle cx="393.9" cy="209.8" r="3.4" fill="#9a3cf5" fill-opacity="0.72"/>
<circle cx="625.9" cy="228.4" r="3.4" fill="#9a3cf5" fill-opacity="0.72"/>
<circle cx="529.6" cy="208" r="3.4" fill="#9a3cf5" fill-opacity="0.72"/>
<circle cx="434.1" cy="215.7" r="3.4" fill="#9a3cf5" fill-opacity="0.72"/>
<circle cx="610.2" cy="172.7" r="3.4" fill="#9a3cf5" fill-opacity="0.72"/>
<circle cx="515.5" cy="215" r="3.4" fill="#9a3cf5" fill-opacity="0.72"/>
<circle cx="498" cy="249.1" r="3.4" fill="#9a3cf5" fill-opacity="0.72"/>
<circle cx="537.7" cy="241.6" r="3.4" fill="#9a3cf5" fill-opacity="0.72"/>
<circle cx="412.7" cy="235.4" r="3.4" fill="#9a3cf5" fill-opacity="0.72"/>
<circle cx="492.1" cy="232.4" r="3.4" fill="#9a3cf5" fill-opacity="0.72"/>
<circle cx="391.9" cy="208.5" r="3.4" fill="#9a3cf5" fill-opacity="0.72"/>
<circle cx="592.4" cy="217.5" r="3.4" fill="#9a3cf5" fill-opacity="0.72"/>
<circle cx="435" cy="240.8" r="3.4" fill="#9a3cf5" fill-opacity="0.72"/>
<circle cx="405.6" cy="230" r="3.4" fill="#9a3cf5" fill-opacity="0.72"/>
<circle cx="485.3" cy="235.8" r="3.4" fill="#9a3cf5" fill-opacity="0.72"/>
<circle cx="419.3" cy="187" r="3.4" fill="#9a3cf5" fill-opacity="0.72"/>
<circle cx="541.6" cy="218.9" r="3.4" fill="#9a3cf5" fill-opacity="0.72"/>
<circle cx="382.2" cy="212.7" r="3.4" fill="#9a3cf5" fill-opacity="0.72"/>
<circle cx="560.6" cy="217" r="3.4" fill="#9a3cf5" fill-opacity="0.72"/>
<circle cx="551.2" cy="221" r="3.4" fill="#9a3cf5" fill-opacity="0.72"/>
<circle cx="499.7" cy="215.5" r="3.4" fill="#9a3cf5" fill-opacity="0.72"/>
<circle cx="542.8" cy="219.1" r="3.4" fill="#9a3cf5" fill-opacity="0.72"/>
<circle cx="500.7" cy="247.1" r="3.4" fill="#9a3cf5" fill-opacity="0.72"/>
<circle cx="510.1" cy="202.2" r="3.4" fill="#9a3cf5" fill-opacity="0.72"/>
<circle cx="416.8" cy="174.3" r="3.4" fill="#9a3cf5" fill-opacity="0.72"/>
<circle cx="582.8" cy="231.7" r="3.4" fill="#9a3cf5" fill-opacity="0.72"/>
<circle cx="457.7" cy="237.4" r="3.4" fill="#9a3cf5" fill-opacity="0.72"/>
<circle cx="421" cy="205.3" r="3.4" fill="#9a3cf5" fill-opacity="0.72"/>
<circle cx="458.8" cy="227.1" r="3.4" fill="#9a3cf5" fill-opacity="0.72"/>
<circle cx="431.5" cy="226.8" r="3.4" fill="#9a3cf5" fill-opacity="0.72"/>
<circle cx="418.5" cy="180.2" r="3.4" fill="#9a3cf5" fill-opacity="0.72"/>
<circle cx="465.6" cy="224.5" r="3.4" fill="#9a3cf5" fill-opacity="0.72"/>
<circle cx="559.4" cy="220" r="3.4" fill="#9a3cf5" fill-opacity="0.72"/>
<circle cx="459.5" cy="239.9" r="3.4" fill="#9a3cf5" fill-opacity="0.72"/>
<circle cx="581.3" cy="231.5" r="3.4" fill="#9a3cf5" fill-opacity="0.72"/>
<circle cx="497.3" cy="250.1" r="3.4" fill="#9a3cf5" fill-opacity="0.72"/>
<circle cx="494.9" cy="252" r="3.4" fill="#9a3cf5" fill-opacity="0.72"/>
<circle cx="457.7" cy="168.6" r="3.4" fill="#9a3cf5" fill-opacity="0.72"/>
<circle cx="579.1" cy="229.9" r="3.4" fill="#9a3cf5" fill-opacity="0.72"/>
<circle cx="457.3" cy="182.3" r="3.4" fill="#9a3cf5" fill-opacity="0.72"/>
<circle cx="381.8" cy="215.9" r="3.4" fill="#9a3cf5" fill-opacity="0.72"/>
<circle cx="440.1" cy="238.6" r="3.4" fill="#9a3cf5" fill-opacity="0.72"/>
<circle cx="416" cy="240.5" r="3.4" fill="#9a3cf5" fill-opacity="0.72"/>
<circle cx="486" cy="232.6" r="3.4" fill="#9a3cf5" fill-opacity="0.72"/>
<circle cx="616.6" cy="227.6" r="3.4" fill="#9a3cf5" fill-opacity="0.72"/>
<circle cx="492.6" cy="238.9" r="3.4" fill="#9a3cf5" fill-opacity="0.72"/>
<circle cx="595.6" cy="224.6" r="3.4" fill="#9a3cf5" fill-opacity="0.72"/>
<circle cx="542" cy="212.3" r="3.4" fill="#9a3cf5" fill-opacity="0.72"/>
<circle cx="536.1" cy="253.7" r="3.4" fill="#9a3cf5" fill-opacity="0.72"/>
<circle cx="461.2" cy="237.5" r="3.4" fill="#9a3cf5" fill-opacity="0.72"/>
<circle cx="413.1" cy="195.2" r="3.4" fill="#9a3cf5" fill-opacity="0.72"/>
<circle cx="564.8" cy="223.6" r="3.4" fill="#9a3cf5" fill-opacity="0.72"/>
<circle cx="400.2" cy="216.5" r="3.4" fill="#9a3cf5" fill-opacity="0.72"/>
<circle cx="388.7" cy="205.4" r="3.4" fill="#9a3cf5" fill-opacity="0.72"/>
<circle cx="566.7" cy="230.3" r="3.4" fill="#9a3cf5" fill-opacity="0.72"/>
<circle cx="473.7" cy="244.7" r="3.4" fill="#9a3cf5" fill-opacity="0.72"/>
<circle cx="628.8" cy="205.9" r="3.4" fill="#9a3cf5" fill-opacity="0.72"/>
<circle cx="599" cy="231.7" r="3.4" fill="#9a3cf5" fill-opacity="0.72"/>
<circle cx="466.1" cy="231.2" r="3.4" fill="#9a3cf5" fill-opacity="0.72"/>
<circle cx="630.6" cy="203" r="3.4" fill="#9a3cf5" fill-opacity="0.72"/>
<circle cx="446.3" cy="231.1" r="3.4" fill="#9a3cf5" fill-opacity="0.72"/>
<circle cx="436.9" cy="240.8" r="3.4" fill="#9a3cf5" fill-opacity="0.72"/>
<circle cx="582.1" cy="240.9" r="3.4" fill="#9a3cf5" fill-opacity="0.72"/>
<circle cx="405" cy="230.8" r="3.4" fill="#9a3cf5" fill-opacity="0.72"/>
<circle cx="492.5" cy="249.4" r="3.4" fill="#9a3cf5" fill-opacity="0.72"/>
<circle cx="636.7" cy="202.1" r="3.4" fill="#9a3cf5" fill-opacity="0.72"/>
<circle cx="427.2" cy="197.6" r="3.4" fill="#9a3cf5" fill-opacity="0.72"/>
<circle cx="503.8" cy="186.6" r="3.4" fill="#9a3cf5" fill-opacity="0.72"/>
<circle cx="638.9" cy="205.2" r="3.4" fill="#9a3cf5" fill-opacity="0.72"/>
<circle cx="514.7" cy="193.6" r="3.4" fill="#9a3cf5" fill-opacity="0.72"/>
<circle cx="491.7" cy="226.6" r="3.4" fill="#9a3cf5" fill-opacity="0.72"/>
<circle cx="528.5" cy="211.9" r="3.4" fill="#9a3cf5" fill-opacity="0.72"/>
<circle cx="625.9" cy="244.5" r="3.4" fill="#9a3cf5" fill-opacity="0.72"/>
<circle cx="490.7" cy="229.3" r="3.4" fill="#9a3cf5" fill-opacity="0.72"/>
<circle cx="413.7" cy="178.6" r="3.4" fill="#9a3cf5" fill-opacity="0.72"/>
<circle cx="599.3" cy="211.2" r="3.4" fill="#9a3cf5" fill-opacity="0.72"/>
<circle cx="618.8" cy="243.7" r="3.4" fill="#9a3cf5" fill-opacity="0.72"/>
<circle cx="552.4" cy="196.6" r="3.4" fill="#9a3cf5" fill-opacity="0.72"/>
<circle cx="492.9" cy="240.1" r="3.4" fill="#9a3cf5" fill-opacity="0.72"/>
<circle cx="399.5" cy="214" r="3.4" fill="#9a3cf5" fill-opacity="0.72"/>
<circle cx="616.9" cy="244.6" r="3.4" fill="#9a3cf5" fill-opacity="0.72"/>
<circle cx="416.9" cy="177.2" r="3.4" fill="#9a3cf5" fill-opacity="0.72"/>
<circle cx="462.9" cy="233.2" r="3.4" fill="#9a3cf5" fill-opacity="0.72"/>
<circle cx="433.2" cy="240.9" r="3.4" fill="#9a3cf5" fill-opacity="0.72"/>
<circle cx="537.3" cy="212.5" r="3.4" fill="#9a3cf5" fill-opacity="0.72"/>
<circle cx="492.2" cy="255.1" r="3.4" fill="#9a3cf5" fill-opacity="0.72"/>
<circle cx="457" cy="220.7" r="3.4" fill="#9a3cf5" fill-opacity="0.72"/>
<circle cx="451.4" cy="198.5" r="3.4" fill="#9a3cf5" fill-opacity="0.72"/>
<circle cx="521.9" cy="222.1" r="3.4" fill="#9a3cf5" fill-opacity="0.72"/>
<circle cx="443" cy="216.6" r="3.4" fill="#9a3cf5" fill-opacity="0.72"/>
<circle cx="436" cy="210.2" r="3.4" fill="#9a3cf5" fill-opacity="0.72"/>
<circle cx="386.8" cy="214" r="3.4" fill="#9a3cf5" fill-opacity="0.72"/>
<circle cx="534.3" cy="208.8" r="3.4" fill="#9a3cf5" fill-opacity="0.72"/>
<circle cx="471.5" cy="243.6" r="3.4" fill="#9a3cf5" fill-opacity="0.72"/>
<circle cx="425.7" cy="231.8" r="3.4" fill="#9a3cf5" fill-opacity="0.72"/>
<circle cx="604.9" cy="223.8" r="3.4" fill="#9a3cf5" fill-opacity="0.72"/>
<circle cx="501.9" cy="213.6" r="3.4" fill="#9a3cf5" fill-opacity="0.72"/>
<circle cx="468.6" cy="219.2" r="3.4" fill="#9a3cf5" fill-opacity="0.72"/>
<circle cx="629.5" cy="195.7" r="3.4" fill="#9a3cf5" fill-opacity="0.72"/>
<circle cx="436.8" cy="235.6" r="3.4" fill="#9a3cf5" fill-opacity="0.72"/>
<circle cx="549.8" cy="219.3" r="3.4" fill="#9a3cf5" fill-opacity="0.72"/>
<circle cx="452.7" cy="247" r="3.4" fill="#9a3cf5" fill-opacity="0.72"/>
<circle cx="464.2" cy="227.2" r="3.4" fill="#9a3cf5" fill-opacity="0.72"/>
<circle cx="427.2" cy="198.7" r="3.4" fill="#9a3cf5" fill-opacity="0.72"/>
<circle cx="586.6" cy="178.4" r="3.4" fill="#9a3cf5" fill-opacity="0.72"/>
<circle cx="456" cy="215.1" r="3.4" fill="#9a3cf5" fill-opacity="0.72"/>
<circle cx="610.8" cy="144.5" r="3.4" fill="#9a3cf5" fill-opacity="0.72"/>
<circle cx="612.8" cy="131.4" r="3.4" fill="#9a3cf5" fill-opacity="0.72"/>
<circle cx="452.7" cy="202.5" r="3.4" fill="#9a3cf5" fill-opacity="0.72"/>
<circle cx="462.5" cy="225" r="3.4" fill="#9a3cf5" fill-opacity="0.72"/>
<circle cx="506.9" cy="205.4" r="3.4" fill="#9a3cf5" fill-opacity="0.72"/>
<circle cx="489.2" cy="250.3" r="3.4" fill="#9a3cf5" fill-opacity="0.72"/>
<circle cx="566.8" cy="223.2" r="3.4" fill="#9a3cf5" fill-opacity="0.72"/>
<circle cx="435.8" cy="232.5" r="3.4" fill="#9a3cf5" fill-opacity="0.72"/>
<circle cx="448.1" cy="202.7" r="3.4" fill="#9a3cf5" fill-opacity="0.72"/>
<circle cx="468.6" cy="224.7" r="3.4" fill="#9a3cf5" fill-opacity="0.72"/>
<circle cx="590.3" cy="231.5" r="3.4" fill="#9a3cf5" fill-opacity="0.72"/>
<circle cx="415.6" cy="195.5" r="3.4" fill="#9a3cf5" fill-opacity="0.72"/>
<circle cx="433.7" cy="240" r="3.4" fill="#9a3cf5" fill-opacity="0.72"/>
<circle cx="417.1" cy="175.3" r="3.4" fill="#9a3cf5" fill-opacity="0.72"/>
<circle cx="488.8" cy="238.2" r="3.4" fill="#9a3cf5" fill-opacity="0.72"/>
<circle cx="384" cy="207.4" r="3.4" fill="#9a3cf5" fill-opacity="0.72"/>
<circle cx="394.2" cy="203.7" r="3.4" fill="#9a3cf5" fill-opacity="0.72"/>
<circle cx="424.6" cy="203" r="3.4" fill="#9a3cf5" fill-opacity="0.72"/>
<circle cx="484.4" cy="237.4" r="3.4" fill="#9a3cf5" fill-opacity="0.72"/>
<circle cx="532" cy="207.8" r="3.4" fill="#9a3cf5" fill-opacity="0.72"/>
<circle cx="555.2" cy="218.5" r="3.4" fill="#9a3cf5" fill-opacity="0.72"/>
<circle cx="394.9" cy="211.6" r="3.4" fill="#9a3cf5" fill-opacity="0.72"/>
<circle cx="404.3" cy="227.8" r="3.4" fill="#9a3cf5" fill-opacity="0.72"/>
<circle cx="571.1" cy="233.6" r="3.4" fill="#9a3cf5" fill-opacity="0.72"/>
<circle cx="478.7" cy="242.6" r="3.4" fill="#9a3cf5" fill-opacity="0.72"/>
<circle cx="409.7" cy="228.2" r="3.4" fill="#9a3cf5" fill-opacity="0.72"/>
<circle cx="419.4" cy="203.5" r="3.4" fill="#9a3cf5" fill-opacity="0.72"/>
<circle cx="512.8" cy="199.4" r="3.4" fill="#9a3cf5" fill-opacity="0.72"/>
<circle cx="565.3" cy="225" r="3.4" fill="#9a3cf5" fill-opacity="0.72"/>
<circle cx="398.6" cy="208.2" r="3.4" fill="#9a3cf5" fill-opacity="0.72"/>
<circle cx="493.7" cy="223.3" r="3.4" fill="#9a3cf5" fill-opacity="0.72"/>
<circle cx="590.3" cy="212.6" r="3.4" fill="#9a3cf5" fill-opacity="0.72"/>
<circle cx="591.7" cy="218.6" r="3.4" fill="#9a3cf5" fill-opacity="0.72"/>
<circle cx="533.6" cy="238.8" r="3.4" fill="#9a3cf5" fill-opacity="0.72"/>
<circle cx="410.8" cy="225.6" r="3.4" fill="#9a3cf5" fill-opacity="0.72"/>
<circle cx="484.8" cy="243.2" r="3.4" fill="#9a3cf5" fill-opacity="0.72"/>
<circle cx="540.1" cy="251.1" r="3.4" fill="#9a3cf5" fill-opacity="0.72"/>
<circle cx="490.3" cy="235.6" r="3.4" fill="#9a3cf5" fill-opacity="0.72"/>
<circle cx="412.6" cy="203.4" r="3.4" fill="#9a3cf5" fill-opacity="0.72"/>
<circle cx="380.6" cy="237.7" r="3.4" fill="#9a3cf5" fill-opacity="0.72"/>
<circle cx="420.4" cy="175.6" r="3.4" fill="#9a3cf5" fill-opacity="0.72"/>
<circle cx="539.6" cy="215.8" r="3.4" fill="#9a3cf5" fill-opacity="0.72"/>
<circle cx="546.8" cy="197.5" r="3.4" fill="#9a3cf5" fill-opacity="0.72"/>
<circle cx="457.7" cy="192.3" r="3.4" fill="#9a3cf5" fill-opacity="0.72"/>
<circle cx="546" cy="197.8" r="3.4" fill="#9a3cf5" fill-opacity="0.72"/>
<circle cx="432.5" cy="192.3" r="3.4" fill="#9a3cf5" fill-opacity="0.72"/>
<circle cx="470" cy="228.3" r="3.4" fill="#9a3cf5" fill-opacity="0.72"/>
<circle cx="425.7" cy="217.6" r="3.4" fill="#9a3cf5" fill-opacity="0.72"/>
<circle cx="549.4" cy="200.4" r="3.4" fill="#9a3cf5" fill-opacity="0.72"/>
<circle cx="594.8" cy="221.2" r="3.4" fill="#9a3cf5" fill-opacity="0.72"/>
<circle cx="496.3" cy="229.3" r="3.4" fill="#9a3cf5" fill-opacity="0.72"/>
<circle cx="396.7" cy="203.9" r="3.4" fill="#9a3cf5" fill-opacity="0.72"/>
<circle cx="385.2" cy="214.1" r="3.4" fill="#9a3cf5" fill-opacity="0.72"/>
<circle cx="436.1" cy="240.5" r="3.4" fill="#9a3cf5" fill-opacity="0.72"/>
<circle cx="538" cy="246.7" r="3.4" fill="#9a3cf5" fill-opacity="0.72"/>
<circle cx="597.7" cy="205.9" r="3.4" fill="#9a3cf5" fill-opacity="0.72"/>
<circle cx="556.4" cy="199.2" r="3.4" fill="#9a3cf5" fill-opacity="0.72"/>
<circle cx="484.4" cy="250.4" r="3.4" fill="#9a3cf5" fill-opacity="0.72"/>
<circle cx="508.7" cy="207.2" r="3.4" fill="#9a3cf5" fill-opacity="0.72"/>
<circle cx="605.7" cy="252.9" r="3.4" fill="#9a3cf5" fill-opacity="0.72"/>
<circle cx="530" cy="236.8" r="3.4" fill="#9a3cf5" fill-opacity="0.72"/>
<circle cx="461.7" cy="221.7" r="3.4" fill="#9a3cf5" fill-opacity="0.72"/>
<circle cx="641.3" cy="213.7" r="3.4" fill="#9a3cf5" fill-opacity="0.72"/>
<circle cx="478.2" cy="245" r="3.4" fill="#9a3cf5" fill-opacity="0.72"/>
<circle cx="531.8" cy="241" r="3.4" fill="#9a3cf5" fill-opacity="0.72"/>
<circle cx="491.9" cy="230.5" r="3.4" fill="#9a3cf5" fill-opacity="0.72"/>
<circle cx="477.8" cy="239.8" r="3.4" fill="#9a3cf5" fill-opacity="0.72"/>
<circle cx="510.1" cy="209.7" r="3.4" fill="#9a3cf5" fill-opacity="0.72"/>
<circle cx="618.4" cy="241" r="3.4" fill="#9a3cf5" fill-opacity="0.72"/>
<circle cx="548.5" cy="192.4" r="3.4" fill="#9a3cf5" fill-opacity="0.72"/>
<circle cx="390.8" cy="227.3" r="3.4" fill="#9a3cf5" fill-opacity="0.72"/>
<circle cx="541.8" cy="210.8" r="3.4" fill="#9a3cf5" fill-opacity="0.72"/>
<circle cx="419.3" cy="175.6" r="3.4" fill="#9a3cf5" fill-opacity="0.72"/>
<circle cx="487.9" cy="246.7" r="3.4" fill="#9a3cf5" fill-opacity="0.72"/>
<circle cx="557.3" cy="222.3" r="3.4" fill="#9a3cf5" fill-opacity="0.72"/>
<circle cx="393.6" cy="220.1" r="3.4" fill="#9a3cf5" fill-opacity="0.72"/>
<circle cx="563.1" cy="224.3" r="3.4" fill="#9a3cf5" fill-opacity="0.72"/>
<circle cx="519" cy="232.8" r="3.4" fill="#9a3cf5" fill-opacity="0.72"/>
<circle cx="632.1" cy="225" r="3.4" fill="#9a3cf5" fill-opacity="0.72"/>
<circle cx="391" cy="217.7" r="3.4" fill="#9a3cf5" fill-opacity="0.72"/>
<circle cx="437.4" cy="239.5" r="3.4" fill="#9a3cf5" fill-opacity="0.72"/>
<circle cx="571" cy="227" r="3.4" fill="#9a3cf5" fill-opacity="0.72"/>
<line x1="743.4" y1="130.1" x2="743.4" y2="313.2" stroke="#c9c9c9" stroke-width="0.9"/>
<line x1="763.5" y1="130.1" x2="763.5" y2="313.2" stroke="#c9c9c9" stroke-width="0.9"/>
<line x1="783.6" y1="130.1" x2="783.6" y2="313.2" stroke="#c9c9c9" stroke-width="0.9"/>
<line x1="804.1" y1="130.1" x2="804.1" y2="313.2" stroke="#c9c9c9" stroke-width="0.9"/>
<line x1="824.2" y1="130.1" x2="824.2" y2="313.2" stroke="#c9c9c9" stroke-width="0.9"/>
<line x1="844.3" y1="130.1" x2="844.3" y2="313.2" stroke="#c9c9c9" stroke-width="0.9"/>
<line x1="864.7" y1="130.1" x2="864.7" y2="313.2" stroke="#c9c9c9" stroke-width="0.9"/>
<line x1="884.8" y1="130.1" x2="884.8" y2="313.2" stroke="#c9c9c9" stroke-width="0.9"/>
<line x1="904.9" y1="130.1" x2="904.9" y2="313.2" stroke="#c9c9c9" stroke-width="0.9"/>
<line x1="925.3" y1="130.1" x2="925.3" y2="313.2" stroke="#c9c9c9" stroke-width="0.9"/>
<line x1="945.4" y1="130.1" x2="945.4" y2="313.2" stroke="#c9c9c9" stroke-width="0.9"/>
<line x1="965.8" y1="130.1" x2="965.8" y2="313.2" stroke="#c9c9c9" stroke-width="0.9"/>
<line x1="987.1" y1="130.1" x2="987.1" y2="313.2" stroke="#c9c9c9" stroke-width="0.9"/>
<line x1="743.4" y1="130.1" x2="987.1" y2="130.1" stroke="#c9c9c9" stroke-width="0.9"/>
<line x1="743.4" y1="145.6" x2="987.1" y2="145.6" stroke="#c9c9c9" stroke-width="0.9"/>
<line x1="743.4" y1="160.4" x2="987.1" y2="160.4" stroke="#c9c9c9" stroke-width="0.9"/>
<line x1="743.4" y1="175.9" x2="987.1" y2="175.9" stroke="#c9c9c9" stroke-width="0.9"/>
<line x1="743.4" y1="191" x2="987.1" y2="191" stroke="#c9c9c9" stroke-width="0.9"/>
<line x1="743.4" y1="206.2" x2="987.1" y2="206.2" stroke="#c9c9c9" stroke-width="0.9"/>
<line x1="743.4" y1="221.3" x2="987.1" y2="221.3" stroke="#c9c9c9" stroke-width="0.9"/>
<line x1="743.4" y1="236.8" x2="987.1" y2="236.8" stroke="#c9c9c9" stroke-width="0.9"/>
<line x1="743.4" y1="252.2" x2="987.1" y2="252.2" stroke="#c9c9c9" stroke-width="0.9"/>
<line x1="743.4" y1="267.4" x2="987.1" y2="267.4" stroke="#c9c9c9" stroke-width="0.9"/>
<line x1="743.4" y1="282.9" x2="987.1" y2="282.9" stroke="#c9c9c9" stroke-width="0.9"/>
<line x1="743.4" y1="298" x2="987.1" y2="298" stroke="#c9c9c9" stroke-width="0.9"/>
<line x1="743.4" y1="313.2" x2="987.1" y2="313.2" stroke="#c9c9c9" stroke-width="0.9"/>
<text x="743.4" y="128.6" class="tk">100</text>
<text x="783.6" y="128.6" class="tk">200</text>
<text x="824.2" y="128.6" class="tk">300</text>
<text x="864.7" y="128.6" class="tk">400</text>
<text x="904.9" y="128.6" class="tk">500</text>
<text x="945.4" y="128.6" class="tk">600</text>
<text x="987.1" y="128.6" class="tk">700</text>
<text x="989.5" y="160.7" class="tk">5</text>
<text x="989.5" y="191.4" class="tk">4</text>
<text x="989.5" y="221.9" class="tk">3</text>
<text x="989.5" y="252.6" class="tk">2</text>
<text x="989.5" y="283.4" class="tk">1</text>
<rect x="743.4" y="294.9" width="20.1" height="18.2" fill="#7dd4a2" stroke="#2f5a48" stroke-width="1.1"/>
<rect x="763.5" y="227.5" width="20.1" height="85.7" fill="#7dd4a2" stroke="#2f5a48" stroke-width="1.1"/>
<rect x="783.6" y="155.8" width="20.4" height="157.4" fill="#7dd4a2" stroke="#2f5a48" stroke-width="1.1"/>
<rect x="804.1" y="179.6" width="20.1" height="133.6" fill="#7dd4a2" stroke="#2f5a48" stroke-width="1.1"/>
<rect x="824.2" y="209.6" width="20.1" height="103.6" fill="#7dd4a2" stroke="#2f5a48" stroke-width="1.1"/>
<rect x="844.3" y="257.2" width="20.4" height="56" fill="#7dd4a2" stroke="#2f5a48" stroke-width="1.1"/>
<rect x="864.7" y="281.3" width="20.1" height="31.8" fill="#7dd4a2" stroke="#2f5a48" stroke-width="1.1"/>
<rect x="884.8" y="296.1" width="20.1" height="17" fill="#7dd4a2" stroke="#2f5a48" stroke-width="1.1"/>
<rect x="904.9" y="308.2" width="20.4" height="4.9" fill="#7dd4a2" stroke="#2f5a48" stroke-width="1.1"/>
<rect x="925.3" y="312.2" width="20.1" height="0.9" fill="#7dd4a2" stroke="#2f5a48" stroke-width="1.1"/>
<path d="M742.2 307.9 C743.9 305.8 748.5 301.2 752.1 295.5 C755.7 289.9 759.9 284.2 763.5 273.9 C767.2 263.6 770.4 246.1 773.8 233.7 C777.1 221.3 780.3 209.7 783.6 199.7 C787 189.6 790.9 179.7 793.8 173.4 C796.8 167.1 799.4 164.3 801.6 161.9 C803.8 159.6 805.2 159.5 807.1 159.5 C809.1 159.5 811.2 159.9 813.3 161.9 C815.5 164 817.5 167 820.1 171.8 C822.8 176.7 826.3 184.1 829.4 191 C832.5 198 835.6 206.2 838.7 213.6 C841.8 221 844.9 228.3 848 235.2 C851.1 242.2 854.1 249 857.2 255.3 C860.3 261.7 863.4 268.1 866.5 273.3 C869.6 278.4 872.8 282.6 875.8 286.3 C878.8 289.9 881.7 292.6 884.8 294.9 C887.9 297.2 891 298.6 894.3 300.2 C897.7 301.7 901.3 302.9 904.9 304.2 C908.5 305.5 912.1 306.8 916 307.9 C919.9 309 923.7 310.2 928.4 311 C933 311.8 938.1 312.2 943.8 312.5 C949.5 312.8 955.2 312.8 962.4 312.8 C969.6 312.9 983 312.8 987.1 312.8" fill="none" stroke="#fa0a0a" stroke-width="4.3" stroke-linejoin="round" stroke-linecap="round"/>
<path d="M157 571.5 L157 485 A86.5 86.5 0 1 1 109.5 643.8 Z" fill="#4472c4"/>
<path d="M157 571.5 L109.5 643.8 A86.5 86.5 0 0 1 88.1 519.2 Z" fill="#ed7d31"/>
<path d="M157 571.5 L88.1 519.2 A86.5 86.5 0 0 1 157 485 Z" fill="#a5a5a5"/>
<line x1="157" y1="571.5" x2="157" y2="482" stroke="#ffffff" stroke-width="3.6"/>
<line x1="157" y1="571.5" x2="107.9" y2="646.3" stroke="#ffffff" stroke-width="3.6"/>
<line x1="157" y1="571.5" x2="85.7" y2="517.4" stroke="#ffffff" stroke-width="3.6"/>
<text x="97.5" y="495.3" class="pl">Changes in</text>
<text x="97.5" y="509.0" class="pl">transport distance</text>
<text x="79.6" y="578.8" class="pl">Optimization in</text>
<text x="79.6" y="592.4" class="pl">material</text>
<text x="79.6" y="606.6" class="pl">consumption</text>
<text x="244.8" y="568.3" class="pl">Use of low-carbon</text>
<text x="244.8" y="582.5" class="pl">material</text>
<text x="244.8" y="596.8" class="pl">substitution</text>
<line x1="379" y1="483" x2="379" y2="665" stroke="#e0e0e0" stroke-width="0.8"/>
<line x1="412.2" y1="483" x2="412.2" y2="665" stroke="#e0e0e0" stroke-width="0.8"/>
<line x1="477.7" y1="483" x2="477.7" y2="665" stroke="#e0e0e0" stroke-width="0.8"/>
<line x1="543.5" y1="483" x2="543.5" y2="665" stroke="#e0e0e0" stroke-width="0.8"/>
<line x1="609.4" y1="483" x2="609.4" y2="665" stroke="#e0e0e0" stroke-width="0.8"/>
<line x1="642.6" y1="483" x2="642.6" y2="665" stroke="#e0e0e0" stroke-width="0.8"/>
<line x1="379" y1="483" x2="642.6" y2="483" stroke="#e0e0e0" stroke-width="0.8"/>
<line x1="379" y1="509.3" x2="642.6" y2="509.3" stroke="#e0e0e0" stroke-width="0.8"/>
<line x1="379" y1="534.6" x2="642.6" y2="534.6" stroke="#e0e0e0" stroke-width="0.8"/>
<line x1="379" y1="560.6" x2="642.6" y2="560.6" stroke="#e0e0e0" stroke-width="0.8"/>
<line x1="379" y1="586.8" x2="642.6" y2="586.8" stroke="#e0e0e0" stroke-width="0.8"/>
<line x1="379" y1="612.8" x2="642.6" y2="612.8" stroke="#e0e0e0" stroke-width="0.8"/>
<line x1="379" y1="638.7" x2="642.6" y2="638.7" stroke="#e0e0e0" stroke-width="0.8"/>
<line x1="379" y1="665" x2="642.6" y2="665" stroke="#e0e0e0" stroke-width="0.8"/>
<line x1="412.1" y1="559.9" x2="412.1" y2="599.2" stroke="#333" stroke-width="1" stroke-dasharray="2 1.5"/>
<line x1="401.1" y1="559.9" x2="422.7" y2="559.9" stroke="#222" stroke-width="1.3"/>
<line x1="401.1" y1="599.2" x2="422.7" y2="599.2" stroke="#222" stroke-width="1.3"/>
<rect x="390.7" y="575.8" width="42.7" height="14.9" fill="#ffe119" stroke="#222" stroke-width="1.2"/>
<line x1="390.7" y1="584.3" x2="433.4" y2="584.3" stroke="#a0522d" stroke-width="1"/>
<line x1="477.9" y1="554.9" x2="477.9" y2="619.1" stroke="#333" stroke-width="1" stroke-dasharray="2 1.5"/>
<line x1="467" y1="554.9" x2="489.1" y2="554.9" stroke="#222" stroke-width="1.3"/>
<line x1="467" y1="619.1" x2="489.1" y2="619.1" stroke="#222" stroke-width="1.3"/>
<rect x="456.5" y="580.2" width="42.7" height="19.3" fill="#a6d827" stroke="#222" stroke-width="1.2"/>
<line x1="456.5" y1="590.9" x2="499.2" y2="590.9" stroke="#a0522d" stroke-width="1"/>
<line x1="543.4" y1="548.9" x2="543.4" y2="619.1" stroke="#333" stroke-width="1" stroke-dasharray="2 1.5"/>
<line x1="532.5" y1="548.9" x2="554.6" y2="548.9" stroke="#222" stroke-width="1.3"/>
<line x1="532.5" y1="619.1" x2="554.6" y2="619.1" stroke="#222" stroke-width="1.3"/>
<rect x="522" y="581.5" width="42.7" height="22.2" fill="#5cc854" stroke="#222" stroke-width="1.2"/>
<line x1="522" y1="593.2" x2="564.7" y2="593.2" stroke="#a0522d" stroke-width="1"/>
<line x1="609.2" y1="560.9" x2="609.2" y2="615.3" stroke="#333" stroke-width="1" stroke-dasharray="2 1.5"/>
<line x1="598.9" y1="560.9" x2="620.1" y2="560.9" stroke="#222" stroke-width="1.3"/>
<line x1="598.9" y1="615.3" x2="620.1" y2="615.3" stroke="#222" stroke-width="1.3"/>
<rect x="587.8" y="586.8" width="42.7" height="20.6" fill="#2dae6a" stroke="#222" stroke-width="1.2"/>
<line x1="587.8" y1="601.1" x2="630.6" y2="601.1" stroke="#a0522d" stroke-width="1"/>
<circle cx="410.9" cy="594.1" r="1.7" fill="#6eaeec" fill-opacity="0.7" stroke="#d5e8fa" stroke-width="0.4"/>
<circle cx="407" cy="568.6" r="1.7" fill="#6eaeec" fill-opacity="0.7" stroke="#d5e8fa" stroke-width="0.4"/>
<circle cx="409.2" cy="580.9" r="1.7" fill="#6eaeec" fill-opacity="0.7" stroke="#d5e8fa" stroke-width="0.4"/>
<circle cx="414.7" cy="583.8" r="1.7" fill="#6eaeec" fill-opacity="0.7" stroke="#d5e8fa" stroke-width="0.4"/>
<circle cx="414.9" cy="580.3" r="1.7" fill="#6eaeec" fill-opacity="0.7" stroke="#d5e8fa" stroke-width="0.4"/>
<circle cx="411" cy="586.3" r="1.7" fill="#6eaeec" fill-opacity="0.7" stroke="#d5e8fa" stroke-width="0.4"/>
<circle cx="413.6" cy="589.7" r="1.7" fill="#6eaeec" fill-opacity="0.7" stroke="#d5e8fa" stroke-width="0.4"/>
<circle cx="412.5" cy="590.5" r="1.7" fill="#6eaeec" fill-opacity="0.7" stroke="#d5e8fa" stroke-width="0.4"/>
<circle cx="410.3" cy="587.1" r="1.7" fill="#6eaeec" fill-opacity="0.7" stroke="#d5e8fa" stroke-width="0.4"/>
<circle cx="414.2" cy="570.2" r="1.7" fill="#6eaeec" fill-opacity="0.7" stroke="#d5e8fa" stroke-width="0.4"/>
<circle cx="410.5" cy="573.2" r="1.7" fill="#6eaeec" fill-opacity="0.7" stroke="#d5e8fa" stroke-width="0.4"/>
<circle cx="408.1" cy="575.7" r="1.7" fill="#6eaeec" fill-opacity="0.7" stroke="#d5e8fa" stroke-width="0.4"/>
<circle cx="414.7" cy="597.6" r="1.7" fill="#6eaeec" fill-opacity="0.7" stroke="#d5e8fa" stroke-width="0.4"/>
<circle cx="415.3" cy="568.2" r="1.7" fill="#6eaeec" fill-opacity="0.7" stroke="#d5e8fa" stroke-width="0.4"/>
<circle cx="412.9" cy="575.4" r="1.7" fill="#6eaeec" fill-opacity="0.7" stroke="#d5e8fa" stroke-width="0.4"/>
<circle cx="408.2" cy="586.8" r="1.7" fill="#6eaeec" fill-opacity="0.7" stroke="#d5e8fa" stroke-width="0.4"/>
<circle cx="412.1" cy="576.4" r="1.7" fill="#6eaeec" fill-opacity="0.7" stroke="#d5e8fa" stroke-width="0.4"/>
<circle cx="412.9" cy="590.9" r="1.7" fill="#6eaeec" fill-opacity="0.7" stroke="#d5e8fa" stroke-width="0.4"/>
<circle cx="411.4" cy="581.7" r="1.7" fill="#6eaeec" fill-opacity="0.7" stroke="#d5e8fa" stroke-width="0.4"/>
<circle cx="409.1" cy="588.4" r="1.7" fill="#6eaeec" fill-opacity="0.7" stroke="#d5e8fa" stroke-width="0.4"/>
<circle cx="414.4" cy="585.9" r="1.7" fill="#6eaeec" fill-opacity="0.7" stroke="#d5e8fa" stroke-width="0.4"/>
<circle cx="411.7" cy="575.6" r="1.7" fill="#6eaeec" fill-opacity="0.7" stroke="#d5e8fa" stroke-width="0.4"/>
<circle cx="411.2" cy="585.6" r="1.7" fill="#6eaeec" fill-opacity="0.7" stroke="#d5e8fa" stroke-width="0.4"/>
<circle cx="410" cy="585.5" r="1.7" fill="#6eaeec" fill-opacity="0.7" stroke="#d5e8fa" stroke-width="0.4"/>
<circle cx="411.1" cy="577.2" r="1.7" fill="#6eaeec" fill-opacity="0.7" stroke="#d5e8fa" stroke-width="0.4"/>
<circle cx="413.8" cy="579.2" r="1.7" fill="#6eaeec" fill-opacity="0.7" stroke="#d5e8fa" stroke-width="0.4"/>
<circle cx="414.6" cy="576.8" r="1.7" fill="#6eaeec" fill-opacity="0.7" stroke="#d5e8fa" stroke-width="0.4"/>
<circle cx="415.6" cy="575.7" r="1.7" fill="#6eaeec" fill-opacity="0.7" stroke="#d5e8fa" stroke-width="0.4"/>
<circle cx="412.8" cy="583.4" r="1.7" fill="#6eaeec" fill-opacity="0.7" stroke="#d5e8fa" stroke-width="0.4"/>
<circle cx="413.7" cy="581.5" r="1.7" fill="#6eaeec" fill-opacity="0.7" stroke="#d5e8fa" stroke-width="0.4"/>
<circle cx="415" cy="581.2" r="1.7" fill="#6eaeec" fill-opacity="0.7" stroke="#d5e8fa" stroke-width="0.4"/>
<circle cx="413.6" cy="580.5" r="1.7" fill="#6eaeec" fill-opacity="0.7" stroke="#d5e8fa" stroke-width="0.4"/>
<circle cx="408.9" cy="561.4" r="1.7" fill="#6eaeec" fill-opacity="0.7" stroke="#d5e8fa" stroke-width="0.4"/>
<circle cx="411.4" cy="580.4" r="1.7" fill="#6eaeec" fill-opacity="0.7" stroke="#d5e8fa" stroke-width="0.4"/>
<circle cx="410.5" cy="591.5" r="1.7" fill="#6eaeec" fill-opacity="0.7" stroke="#d5e8fa" stroke-width="0.4"/>
<circle cx="412.2" cy="581.2" r="1.7" fill="#6eaeec" fill-opacity="0.7" stroke="#d5e8fa" stroke-width="0.4"/>
<circle cx="410.3" cy="589" r="1.7" fill="#6eaeec" fill-opacity="0.7" stroke="#d5e8fa" stroke-width="0.4"/>
<circle cx="413.2" cy="578" r="1.7" fill="#6eaeec" fill-opacity="0.7" stroke="#d5e8fa" stroke-width="0.4"/>
<circle cx="415.7" cy="589.2" r="1.7" fill="#6eaeec" fill-opacity="0.7" stroke="#d5e8fa" stroke-width="0.4"/>
<circle cx="414.8" cy="581.4" r="1.7" fill="#6eaeec" fill-opacity="0.7" stroke="#d5e8fa" stroke-width="0.4"/>
<circle cx="473.5" cy="608.8" r="1.7" fill="#6eaeec" fill-opacity="0.7" stroke="#d5e8fa" stroke-width="0.4"/>
<circle cx="476" cy="582.4" r="1.7" fill="#6eaeec" fill-opacity="0.7" stroke="#d5e8fa" stroke-width="0.4"/>
<circle cx="476.3" cy="584.7" r="1.7" fill="#6eaeec" fill-opacity="0.7" stroke="#d5e8fa" stroke-width="0.4"/>
<circle cx="476" cy="588.2" r="1.7" fill="#6eaeec" fill-opacity="0.7" stroke="#d5e8fa" stroke-width="0.4"/>
<circle cx="479.3" cy="613.7" r="1.7" fill="#6eaeec" fill-opacity="0.7" stroke="#d5e8fa" stroke-width="0.4"/>
<circle cx="479.8" cy="599.3" r="1.7" fill="#6eaeec" fill-opacity="0.7" stroke="#d5e8fa" stroke-width="0.4"/>
<circle cx="479.6" cy="592.9" r="1.7" fill="#6eaeec" fill-opacity="0.7" stroke="#d5e8fa" stroke-width="0.4"/>
<circle cx="475.4" cy="593.5" r="1.7" fill="#6eaeec" fill-opacity="0.7" stroke="#d5e8fa" stroke-width="0.4"/>
<circle cx="476.4" cy="570.4" r="1.7" fill="#6eaeec" fill-opacity="0.7" stroke="#d5e8fa" stroke-width="0.4"/>
<circle cx="480" cy="612.1" r="1.7" fill="#6eaeec" fill-opacity="0.7" stroke="#d5e8fa" stroke-width="0.4"/>
<circle cx="479.7" cy="592.4" r="1.7" fill="#6eaeec" fill-opacity="0.7" stroke="#d5e8fa" stroke-width="0.4"/>
<circle cx="480.8" cy="596.6" r="1.7" fill="#6eaeec" fill-opacity="0.7" stroke="#d5e8fa" stroke-width="0.4"/>
<circle cx="480.1" cy="590.6" r="1.7" fill="#6eaeec" fill-opacity="0.7" stroke="#d5e8fa" stroke-width="0.4"/>
<circle cx="479.9" cy="591.1" r="1.7" fill="#6eaeec" fill-opacity="0.7" stroke="#d5e8fa" stroke-width="0.4"/>
<circle cx="476.3" cy="586.6" r="1.7" fill="#6eaeec" fill-opacity="0.7" stroke="#d5e8fa" stroke-width="0.4"/>
<circle cx="474" cy="586.5" r="1.7" fill="#6eaeec" fill-opacity="0.7" stroke="#d5e8fa" stroke-width="0.4"/>
<circle cx="477.9" cy="578.3" r="1.7" fill="#6eaeec" fill-opacity="0.7" stroke="#d5e8fa" stroke-width="0.4"/>
<circle cx="480.9" cy="593.7" r="1.7" fill="#6eaeec" fill-opacity="0.7" stroke="#d5e8fa" stroke-width="0.4"/>
<circle cx="480.6" cy="615.7" r="1.7" fill="#6eaeec" fill-opacity="0.7" stroke="#d5e8fa" stroke-width="0.4"/>
<circle cx="473.6" cy="578.9" r="1.7" fill="#6eaeec" fill-opacity="0.7" stroke="#d5e8fa" stroke-width="0.4"/>
<circle cx="479" cy="585.9" r="1.7" fill="#6eaeec" fill-opacity="0.7" stroke="#d5e8fa" stroke-width="0.4"/>
<circle cx="482.3" cy="599.1" r="1.7" fill="#6eaeec" fill-opacity="0.7" stroke="#d5e8fa" stroke-width="0.4"/>
<circle cx="472.9" cy="586.1" r="1.7" fill="#6eaeec" fill-opacity="0.7" stroke="#d5e8fa" stroke-width="0.4"/>
<circle cx="480.7" cy="590.4" r="1.7" fill="#6eaeec" fill-opacity="0.7" stroke="#d5e8fa" stroke-width="0.4"/>
<circle cx="479.7" cy="582.2" r="1.7" fill="#6eaeec" fill-opacity="0.7" stroke="#d5e8fa" stroke-width="0.4"/>
<circle cx="478.5" cy="607.4" r="1.7" fill="#6eaeec" fill-opacity="0.7" stroke="#d5e8fa" stroke-width="0.4"/>
<circle cx="477" cy="587.4" r="1.7" fill="#6eaeec" fill-opacity="0.7" stroke="#d5e8fa" stroke-width="0.4"/>
<circle cx="482.7" cy="585.9" r="1.7" fill="#6eaeec" fill-opacity="0.7" stroke="#d5e8fa" stroke-width="0.4"/>
<circle cx="476.5" cy="593" r="1.7" fill="#6eaeec" fill-opacity="0.7" stroke="#d5e8fa" stroke-width="0.4"/>
<circle cx="479.4" cy="598.8" r="1.7" fill="#6eaeec" fill-opacity="0.7" stroke="#d5e8fa" stroke-width="0.4"/>
<circle cx="478.1" cy="556.3" r="1.7" fill="#6eaeec" fill-opacity="0.7" stroke="#d5e8fa" stroke-width="0.4"/>
<circle cx="474" cy="593.5" r="1.7" fill="#6eaeec" fill-opacity="0.7" stroke="#d5e8fa" stroke-width="0.4"/>
<circle cx="481.4" cy="592.6" r="1.7" fill="#6eaeec" fill-opacity="0.7" stroke="#d5e8fa" stroke-width="0.4"/>
<circle cx="479.2" cy="594.1" r="1.7" fill="#6eaeec" fill-opacity="0.7" stroke="#d5e8fa" stroke-width="0.4"/>
<circle cx="474.9" cy="596" r="1.7" fill="#6eaeec" fill-opacity="0.7" stroke="#d5e8fa" stroke-width="0.4"/>
<circle cx="475.3" cy="604.1" r="1.7" fill="#6eaeec" fill-opacity="0.7" stroke="#d5e8fa" stroke-width="0.4"/>
<circle cx="482.1" cy="607.1" r="1.7" fill="#6eaeec" fill-opacity="0.7" stroke="#d5e8fa" stroke-width="0.4"/>
<circle cx="480.6" cy="574.7" r="1.7" fill="#6eaeec" fill-opacity="0.7" stroke="#d5e8fa" stroke-width="0.4"/>
<circle cx="477.3" cy="595.8" r="1.7" fill="#6eaeec" fill-opacity="0.7" stroke="#d5e8fa" stroke-width="0.4"/>
<circle cx="480.2" cy="579.1" r="1.7" fill="#6eaeec" fill-opacity="0.7" stroke="#d5e8fa" stroke-width="0.4"/>
<circle cx="473.5" cy="599.6" r="1.7" fill="#6eaeec" fill-opacity="0.7" stroke="#d5e8fa" stroke-width="0.4"/>
<circle cx="477.6" cy="592.7" r="1.7" fill="#6eaeec" fill-opacity="0.7" stroke="#d5e8fa" stroke-width="0.4"/>
<circle cx="483.5" cy="587.8" r="1.7" fill="#6eaeec" fill-opacity="0.7" stroke="#d5e8fa" stroke-width="0.4"/>
<circle cx="473.8" cy="565.3" r="1.7" fill="#6eaeec" fill-opacity="0.7" stroke="#d5e8fa" stroke-width="0.4"/>
<circle cx="475.4" cy="581" r="1.7" fill="#6eaeec" fill-opacity="0.7" stroke="#d5e8fa" stroke-width="0.4"/>
<circle cx="480.5" cy="581.2" r="1.7" fill="#6eaeec" fill-opacity="0.7" stroke="#d5e8fa" stroke-width="0.4"/>
<circle cx="472.7" cy="601.5" r="1.7" fill="#6eaeec" fill-opacity="0.7" stroke="#d5e8fa" stroke-width="0.4"/>
<circle cx="476.2" cy="594.8" r="1.7" fill="#6eaeec" fill-opacity="0.7" stroke="#d5e8fa" stroke-width="0.4"/>
<circle cx="481.7" cy="595" r="1.7" fill="#6eaeec" fill-opacity="0.7" stroke="#d5e8fa" stroke-width="0.4"/>
<circle cx="479.7" cy="584.1" r="1.7" fill="#6eaeec" fill-opacity="0.7" stroke="#d5e8fa" stroke-width="0.4"/>
<circle cx="482.9" cy="556.8" r="1.7" fill="#6eaeec" fill-opacity="0.7" stroke="#d5e8fa" stroke-width="0.4"/>
<circle cx="479.6" cy="575.2" r="1.7" fill="#6eaeec" fill-opacity="0.7" stroke="#d5e8fa" stroke-width="0.4"/>
<circle cx="479.3" cy="589.5" r="1.7" fill="#6eaeec" fill-opacity="0.7" stroke="#d5e8fa" stroke-width="0.4"/>
<circle cx="474.4" cy="588.4" r="1.7" fill="#6eaeec" fill-opacity="0.7" stroke="#d5e8fa" stroke-width="0.4"/>
<circle cx="479" cy="586.7" r="1.7" fill="#6eaeec" fill-opacity="0.7" stroke="#d5e8fa" stroke-width="0.4"/>
<circle cx="479.3" cy="579.9" r="1.7" fill="#6eaeec" fill-opacity="0.7" stroke="#d5e8fa" stroke-width="0.4"/>
<circle cx="481.5" cy="591.4" r="1.7" fill="#6eaeec" fill-opacity="0.7" stroke="#d5e8fa" stroke-width="0.4"/>
<circle cx="476.7" cy="594.6" r="1.7" fill="#6eaeec" fill-opacity="0.7" stroke="#d5e8fa" stroke-width="0.4"/>
<circle cx="480.4" cy="601" r="1.7" fill="#6eaeec" fill-opacity="0.7" stroke="#d5e8fa" stroke-width="0.4"/>
<circle cx="481.1" cy="582.5" r="1.7" fill="#6eaeec" fill-opacity="0.7" stroke="#d5e8fa" stroke-width="0.4"/>
<circle cx="481" cy="592.2" r="1.7" fill="#6eaeec" fill-opacity="0.7" stroke="#d5e8fa" stroke-width="0.4"/>
<circle cx="482.4" cy="556" r="1.7" fill="#6eaeec" fill-opacity="0.7" stroke="#d5e8fa" stroke-width="0.4"/>
<circle cx="475.9" cy="597.2" r="1.7" fill="#6eaeec" fill-opacity="0.7" stroke="#d5e8fa" stroke-width="0.4"/>
<circle cx="479.9" cy="597.1" r="1.7" fill="#6eaeec" fill-opacity="0.7" stroke="#d5e8fa" stroke-width="0.4"/>
<circle cx="481.4" cy="608.9" r="1.7" fill="#6eaeec" fill-opacity="0.7" stroke="#d5e8fa" stroke-width="0.4"/>
<circle cx="481.1" cy="586.3" r="1.7" fill="#6eaeec" fill-opacity="0.7" stroke="#d5e8fa" stroke-width="0.4"/>
<circle cx="474" cy="582.9" r="1.7" fill="#6eaeec" fill-opacity="0.7" stroke="#d5e8fa" stroke-width="0.4"/>
<circle cx="481" cy="593.6" r="1.7" fill="#6eaeec" fill-opacity="0.7" stroke="#d5e8fa" stroke-width="0.4"/>
<circle cx="479.4" cy="571.7" r="1.7" fill="#6eaeec" fill-opacity="0.7" stroke="#d5e8fa" stroke-width="0.4"/>
<circle cx="480.7" cy="580.2" r="1.7" fill="#6eaeec" fill-opacity="0.7" stroke="#d5e8fa" stroke-width="0.4"/>
<circle cx="481.3" cy="591.9" r="1.7" fill="#6eaeec" fill-opacity="0.7" stroke="#d5e8fa" stroke-width="0.4"/>
<circle cx="482.7" cy="589.3" r="1.7" fill="#6eaeec" fill-opacity="0.7" stroke="#d5e8fa" stroke-width="0.4"/>
<circle cx="478.5" cy="567.1" r="1.7" fill="#6eaeec" fill-opacity="0.7" stroke="#d5e8fa" stroke-width="0.4"/>
<circle cx="479.5" cy="587.6" r="1.7" fill="#6eaeec" fill-opacity="0.7" stroke="#d5e8fa" stroke-width="0.4"/>
<circle cx="478" cy="617.9" r="1.7" fill="#6eaeec" fill-opacity="0.7" stroke="#d5e8fa" stroke-width="0.4"/>
<circle cx="477.1" cy="596.5" r="1.7" fill="#6eaeec" fill-opacity="0.7" stroke="#d5e8fa" stroke-width="0.4"/>
<circle cx="474.5" cy="588.2" r="1.7" fill="#6eaeec" fill-opacity="0.7" stroke="#d5e8fa" stroke-width="0.4"/>
<circle cx="475.4" cy="598.4" r="1.7" fill="#6eaeec" fill-opacity="0.7" stroke="#d5e8fa" stroke-width="0.4"/>
<circle cx="477.7" cy="604.4" r="1.7" fill="#6eaeec" fill-opacity="0.7" stroke="#d5e8fa" stroke-width="0.4"/>
<circle cx="476.9" cy="597.3" r="1.7" fill="#6eaeec" fill-opacity="0.7" stroke="#d5e8fa" stroke-width="0.4"/>
<circle cx="481.1" cy="568.4" r="1.7" fill="#6eaeec" fill-opacity="0.7" stroke="#d5e8fa" stroke-width="0.4"/>
<circle cx="476.1" cy="590.6" r="1.7" fill="#6eaeec" fill-opacity="0.7" stroke="#d5e8fa" stroke-width="0.4"/>
<circle cx="481.1" cy="599.4" r="1.7" fill="#6eaeec" fill-opacity="0.7" stroke="#d5e8fa" stroke-width="0.4"/>
<circle cx="473.6" cy="563.3" r="1.7" fill="#6eaeec" fill-opacity="0.7" stroke="#d5e8fa" stroke-width="0.4"/>
<circle cx="481.1" cy="593.1" r="1.7" fill="#6eaeec" fill-opacity="0.7" stroke="#d5e8fa" stroke-width="0.4"/>
<circle cx="548.1" cy="580.5" r="1.7" fill="#6eaeec" fill-opacity="0.7" stroke="#d5e8fa" stroke-width="0.4"/>
<circle cx="539.1" cy="585.3" r="1.7" fill="#6eaeec" fill-opacity="0.7" stroke="#d5e8fa" stroke-width="0.4"/>
<circle cx="540.1" cy="611.5" r="1.7" fill="#6eaeec" fill-opacity="0.7" stroke="#d5e8fa" stroke-width="0.4"/>
<circle cx="548.1" cy="603.5" r="1.7" fill="#6eaeec" fill-opacity="0.7" stroke="#d5e8fa" stroke-width="0.4"/>
<circle cx="545.5" cy="580.9" r="1.7" fill="#6eaeec" fill-opacity="0.7" stroke="#d5e8fa" stroke-width="0.4"/>
<circle cx="539.5" cy="597.2" r="1.7" fill="#6eaeec" fill-opacity="0.7" stroke="#d5e8fa" stroke-width="0.4"/>
<circle cx="541.4" cy="582.2" r="1.7" fill="#6eaeec" fill-opacity="0.7" stroke="#d5e8fa" stroke-width="0.4"/>
<circle cx="542.1" cy="582.7" r="1.7" fill="#6eaeec" fill-opacity="0.7" stroke="#d5e8fa" stroke-width="0.4"/>
<circle cx="541.1" cy="596.1" r="1.7" fill="#6eaeec" fill-opacity="0.7" stroke="#d5e8fa" stroke-width="0.4"/>
<circle cx="538.2" cy="552.3" r="1.7" fill="#6eaeec" fill-opacity="0.7" stroke="#d5e8fa" stroke-width="0.4"/>
<circle cx="546.3" cy="602.1" r="1.7" fill="#6eaeec" fill-opacity="0.7" stroke="#d5e8fa" stroke-width="0.4"/>
<circle cx="545.8" cy="556.5" r="1.7" fill="#6eaeec" fill-opacity="0.7" stroke="#d5e8fa" stroke-width="0.4"/>
<circle cx="548.4" cy="591.3" r="1.7" fill="#6eaeec" fill-opacity="0.7" stroke="#d5e8fa" stroke-width="0.4"/>
<circle cx="541.5" cy="595.9" r="1.7" fill="#6eaeec" fill-opacity="0.7" stroke="#d5e8fa" stroke-width="0.4"/>
<circle cx="541" cy="598.6" r="1.7" fill="#6eaeec" fill-opacity="0.7" stroke="#d5e8fa" stroke-width="0.4"/>
<circle cx="543.7" cy="586.4" r="1.7" fill="#6eaeec" fill-opacity="0.7" stroke="#d5e8fa" stroke-width="0.4"/>
<circle cx="542.8" cy="607.2" r="1.7" fill="#6eaeec" fill-opacity="0.7" stroke="#d5e8fa" stroke-width="0.4"/>
<circle cx="542.3" cy="587.8" r="1.7" fill="#6eaeec" fill-opacity="0.7" stroke="#d5e8fa" stroke-width="0.4"/>
<circle cx="545.8" cy="580.9" r="1.7" fill="#6eaeec" fill-opacity="0.7" stroke="#d5e8fa" stroke-width="0.4"/>
<circle cx="547.5" cy="582.4" r="1.7" fill="#6eaeec" fill-opacity="0.7" stroke="#d5e8fa" stroke-width="0.4"/>
<circle cx="541.9" cy="574.7" r="1.7" fill="#6eaeec" fill-opacity="0.7" stroke="#d5e8fa" stroke-width="0.4"/>
<circle cx="549.8" cy="582" r="1.7" fill="#6eaeec" fill-opacity="0.7" stroke="#d5e8fa" stroke-width="0.4"/>
<circle cx="540.8" cy="599.4" r="1.7" fill="#6eaeec" fill-opacity="0.7" stroke="#d5e8fa" stroke-width="0.4"/>
<circle cx="540.7" cy="604.9" r="1.7" fill="#6eaeec" fill-opacity="0.7" stroke="#d5e8fa" stroke-width="0.4"/>
<circle cx="542.4" cy="606.7" r="1.7" fill="#6eaeec" fill-opacity="0.7" stroke="#d5e8fa" stroke-width="0.4"/>
<circle cx="543.6" cy="612.1" r="1.7" fill="#6eaeec" fill-opacity="0.7" stroke="#d5e8fa" stroke-width="0.4"/>
<circle cx="540.7" cy="562.2" r="1.7" fill="#6eaeec" fill-opacity="0.7" stroke="#d5e8fa" stroke-width="0.4"/>
<circle cx="546.3" cy="555.3" r="1.7" fill="#6eaeec" fill-opacity="0.7" stroke="#d5e8fa" stroke-width="0.4"/>
<circle cx="539.3" cy="586.6" r="1.7" fill="#6eaeec" fill-opacity="0.7" stroke="#d5e8fa" stroke-width="0.4"/>
<circle cx="540.5" cy="600.7" r="1.7" fill="#6eaeec" fill-opacity="0.7" stroke="#d5e8fa" stroke-width="0.4"/>
<circle cx="543.9" cy="599.9" r="1.7" fill="#6eaeec" fill-opacity="0.7" stroke="#d5e8fa" stroke-width="0.4"/>
<circle cx="542.4" cy="605.2" r="1.7" fill="#6eaeec" fill-opacity="0.7" stroke="#d5e8fa" stroke-width="0.4"/>
<circle cx="541.5" cy="592.3" r="1.7" fill="#6eaeec" fill-opacity="0.7" stroke="#d5e8fa" stroke-width="0.4"/>
<circle cx="537.4" cy="602.3" r="1.7" fill="#6eaeec" fill-opacity="0.7" stroke="#d5e8fa" stroke-width="0.4"/>
<circle cx="541.9" cy="589.1" r="1.7" fill="#6eaeec" fill-opacity="0.7" stroke="#d5e8fa" stroke-width="0.4"/>
<circle cx="540.7" cy="579.6" r="1.7" fill="#6eaeec" fill-opacity="0.7" stroke="#d5e8fa" stroke-width="0.4"/>
<circle cx="543.6" cy="582.6" r="1.7" fill="#6eaeec" fill-opacity="0.7" stroke="#d5e8fa" stroke-width="0.4"/>
<circle cx="545.9" cy="587.8" r="1.7" fill="#6eaeec" fill-opacity="0.7" stroke="#d5e8fa" stroke-width="0.4"/>
<circle cx="545.1" cy="581.1" r="1.7" fill="#6eaeec" fill-opacity="0.7" stroke="#d5e8fa" stroke-width="0.4"/>
<circle cx="548.1" cy="592.9" r="1.7" fill="#6eaeec" fill-opacity="0.7" stroke="#d5e8fa" stroke-width="0.4"/>
<circle cx="543.7" cy="615.9" r="1.7" fill="#6eaeec" fill-opacity="0.7" stroke="#d5e8fa" stroke-width="0.4"/>
<circle cx="541.6" cy="567" r="1.7" fill="#6eaeec" fill-opacity="0.7" stroke="#d5e8fa" stroke-width="0.4"/>
<circle cx="545" cy="597.6" r="1.7" fill="#6eaeec" fill-opacity="0.7" stroke="#d5e8fa" stroke-width="0.4"/>
<circle cx="541.8" cy="594.5" r="1.7" fill="#6eaeec" fill-opacity="0.7" stroke="#d5e8fa" stroke-width="0.4"/>
<circle cx="543.6" cy="609.2" r="1.7" fill="#6eaeec" fill-opacity="0.7" stroke="#d5e8fa" stroke-width="0.4"/>
<circle cx="544.6" cy="583.5" r="1.7" fill="#6eaeec" fill-opacity="0.7" stroke="#d5e8fa" stroke-width="0.4"/>
<circle cx="543.4" cy="577.5" r="1.7" fill="#6eaeec" fill-opacity="0.7" stroke="#d5e8fa" stroke-width="0.4"/>
<circle cx="539.9" cy="583.3" r="1.7" fill="#6eaeec" fill-opacity="0.7" stroke="#d5e8fa" stroke-width="0.4"/>
<circle cx="544.2" cy="606.2" r="1.7" fill="#6eaeec" fill-opacity="0.7" stroke="#d5e8fa" stroke-width="0.4"/>
<circle cx="546.9" cy="607.2" r="1.7" fill="#6eaeec" fill-opacity="0.7" stroke="#d5e8fa" stroke-width="0.4"/>
<circle cx="543.6" cy="599.8" r="1.7" fill="#6eaeec" fill-opacity="0.7" stroke="#d5e8fa" stroke-width="0.4"/>
<circle cx="542.3" cy="579.6" r="1.7" fill="#6eaeec" fill-opacity="0.7" stroke="#d5e8fa" stroke-width="0.4"/>
<circle cx="548.9" cy="600.8" r="1.7" fill="#6eaeec" fill-opacity="0.7" stroke="#d5e8fa" stroke-width="0.4"/>
<circle cx="545.3" cy="604.5" r="1.7" fill="#6eaeec" fill-opacity="0.7" stroke="#d5e8fa" stroke-width="0.4"/>
<circle cx="546.4" cy="593" r="1.7" fill="#6eaeec" fill-opacity="0.7" stroke="#d5e8fa" stroke-width="0.4"/>
<circle cx="542.1" cy="579.4" r="1.7" fill="#6eaeec" fill-opacity="0.7" stroke="#d5e8fa" stroke-width="0.4"/>
<circle cx="543.4" cy="616" r="1.7" fill="#6eaeec" fill-opacity="0.7" stroke="#d5e8fa" stroke-width="0.4"/>
<circle cx="546.8" cy="600.6" r="1.7" fill="#6eaeec" fill-opacity="0.7" stroke="#d5e8fa" stroke-width="0.4"/>
<circle cx="548" cy="593.7" r="1.7" fill="#6eaeec" fill-opacity="0.7" stroke="#d5e8fa" stroke-width="0.4"/>
<circle cx="540.9" cy="586.9" r="1.7" fill="#6eaeec" fill-opacity="0.7" stroke="#d5e8fa" stroke-width="0.4"/>
<circle cx="547.6" cy="585.4" r="1.7" fill="#6eaeec" fill-opacity="0.7" stroke="#d5e8fa" stroke-width="0.4"/>
<circle cx="542.6" cy="570.7" r="1.7" fill="#6eaeec" fill-opacity="0.7" stroke="#d5e8fa" stroke-width="0.4"/>
<circle cx="544.3" cy="604.5" r="1.7" fill="#6eaeec" fill-opacity="0.7" stroke="#d5e8fa" stroke-width="0.4"/>
<circle cx="543.5" cy="593.4" r="1.7" fill="#6eaeec" fill-opacity="0.7" stroke="#d5e8fa" stroke-width="0.4"/>
<circle cx="541.3" cy="569.9" r="1.7" fill="#6eaeec" fill-opacity="0.7" stroke="#d5e8fa" stroke-width="0.4"/>
<circle cx="542.7" cy="555.9" r="1.7" fill="#6eaeec" fill-opacity="0.7" stroke="#d5e8fa" stroke-width="0.4"/>
<circle cx="543.9" cy="594.4" r="1.7" fill="#6eaeec" fill-opacity="0.7" stroke="#d5e8fa" stroke-width="0.4"/>
<circle cx="544.4" cy="591.5" r="1.7" fill="#6eaeec" fill-opacity="0.7" stroke="#d5e8fa" stroke-width="0.4"/>
<circle cx="543.9" cy="587.6" r="1.7" fill="#6eaeec" fill-opacity="0.7" stroke="#d5e8fa" stroke-width="0.4"/>
<circle cx="541.6" cy="589.5" r="1.7" fill="#6eaeec" fill-opacity="0.7" stroke="#d5e8fa" stroke-width="0.4"/>
<circle cx="543.8" cy="608.7" r="1.7" fill="#6eaeec" fill-opacity="0.7" stroke="#d5e8fa" stroke-width="0.4"/>
<circle cx="540.9" cy="586.9" r="1.7" fill="#6eaeec" fill-opacity="0.7" stroke="#d5e8fa" stroke-width="0.4"/>
<circle cx="547" cy="583.6" r="1.7" fill="#6eaeec" fill-opacity="0.7" stroke="#d5e8fa" stroke-width="0.4"/>
<circle cx="538.2" cy="554.1" r="1.7" fill="#6eaeec" fill-opacity="0.7" stroke="#d5e8fa" stroke-width="0.4"/>
<circle cx="542.4" cy="582.3" r="1.7" fill="#6eaeec" fill-opacity="0.7" stroke="#d5e8fa" stroke-width="0.4"/>
<circle cx="539.9" cy="583.5" r="1.7" fill="#6eaeec" fill-opacity="0.7" stroke="#d5e8fa" stroke-width="0.4"/>
<circle cx="542.1" cy="595.6" r="1.7" fill="#6eaeec" fill-opacity="0.7" stroke="#d5e8fa" stroke-width="0.4"/>
<circle cx="547.4" cy="598.8" r="1.7" fill="#6eaeec" fill-opacity="0.7" stroke="#d5e8fa" stroke-width="0.4"/>
<circle cx="546.1" cy="600" r="1.7" fill="#6eaeec" fill-opacity="0.7" stroke="#d5e8fa" stroke-width="0.4"/>
<circle cx="546" cy="609.3" r="1.7" fill="#6eaeec" fill-opacity="0.7" stroke="#d5e8fa" stroke-width="0.4"/>
<circle cx="537.9" cy="592.5" r="1.7" fill="#6eaeec" fill-opacity="0.7" stroke="#d5e8fa" stroke-width="0.4"/>
<circle cx="547.8" cy="603.3" r="1.7" fill="#6eaeec" fill-opacity="0.7" stroke="#d5e8fa" stroke-width="0.4"/>
<circle cx="547.1" cy="580.7" r="1.7" fill="#6eaeec" fill-opacity="0.7" stroke="#d5e8fa" stroke-width="0.4"/>
<circle cx="542.9" cy="576.5" r="1.7" fill="#6eaeec" fill-opacity="0.7" stroke="#d5e8fa" stroke-width="0.4"/>
<circle cx="543.8" cy="603.6" r="1.7" fill="#6eaeec" fill-opacity="0.7" stroke="#d5e8fa" stroke-width="0.4"/>
<circle cx="612.4" cy="571.5" r="1.7" fill="#6eaeec" fill-opacity="0.7" stroke="#d5e8fa" stroke-width="0.4"/>
<circle cx="608" cy="599.1" r="1.7" fill="#6eaeec" fill-opacity="0.7" stroke="#d5e8fa" stroke-width="0.4"/>
<circle cx="604.1" cy="606.1" r="1.7" fill="#6eaeec" fill-opacity="0.7" stroke="#d5e8fa" stroke-width="0.4"/>
<circle cx="613.5" cy="584.2" r="1.7" fill="#6eaeec" fill-opacity="0.7" stroke="#d5e8fa" stroke-width="0.4"/>
<circle cx="611.3" cy="591.5" r="1.7" fill="#6eaeec" fill-opacity="0.7" stroke="#d5e8fa" stroke-width="0.4"/>
<circle cx="609.2" cy="598.1" r="1.7" fill="#6eaeec" fill-opacity="0.7" stroke="#d5e8fa" stroke-width="0.4"/>
<circle cx="613.8" cy="601.7" r="1.7" fill="#6eaeec" fill-opacity="0.7" stroke="#d5e8fa" stroke-width="0.4"/>
<circle cx="608.3" cy="593.5" r="1.7" fill="#6eaeec" fill-opacity="0.7" stroke="#d5e8fa" stroke-width="0.4"/>
<circle cx="613.9" cy="587.3" r="1.7" fill="#6eaeec" fill-opacity="0.7" stroke="#d5e8fa" stroke-width="0.4"/>
<circle cx="608.2" cy="598.9" r="1.7" fill="#6eaeec" fill-opacity="0.7" stroke="#d5e8fa" stroke-width="0.4"/>
<circle cx="614" cy="595.7" r="1.7" fill="#6eaeec" fill-opacity="0.7" stroke="#d5e8fa" stroke-width="0.4"/>
<circle cx="610.8" cy="589.7" r="1.7" fill="#6eaeec" fill-opacity="0.7" stroke="#d5e8fa" stroke-width="0.4"/>
<circle cx="611.2" cy="613.2" r="1.7" fill="#6eaeec" fill-opacity="0.7" stroke="#d5e8fa" stroke-width="0.4"/>
<circle cx="612.2" cy="608.8" r="1.7" fill="#6eaeec" fill-opacity="0.7" stroke="#d5e8fa" stroke-width="0.4"/>
<circle cx="611.4" cy="606.7" r="1.7" fill="#6eaeec" fill-opacity="0.7" stroke="#d5e8fa" stroke-width="0.4"/>
<circle cx="608.7" cy="588.7" r="1.7" fill="#6eaeec" fill-opacity="0.7" stroke="#d5e8fa" stroke-width="0.4"/>
<circle cx="609.2" cy="594.9" r="1.7" fill="#6eaeec" fill-opacity="0.7" stroke="#d5e8fa" stroke-width="0.4"/>
<circle cx="610" cy="600.5" r="1.7" fill="#6eaeec" fill-opacity="0.7" stroke="#d5e8fa" stroke-width="0.4"/>
<circle cx="605.4" cy="592.4" r="1.7" fill="#6eaeec" fill-opacity="0.7" stroke="#d5e8fa" stroke-width="0.4"/>
<circle cx="610.2" cy="606" r="1.7" fill="#6eaeec" fill-opacity="0.7" stroke="#d5e8fa" stroke-width="0.4"/>
<circle cx="610.1" cy="588" r="1.7" fill="#6eaeec" fill-opacity="0.7" stroke="#d5e8fa" stroke-width="0.4"/>
<circle cx="609.6" cy="597.9" r="1.7" fill="#6eaeec" fill-opacity="0.7" stroke="#d5e8fa" stroke-width="0.4"/>
<circle cx="614" cy="568.3" r="1.7" fill="#6eaeec" fill-opacity="0.7" stroke="#d5e8fa" stroke-width="0.4"/>
<circle cx="605.4" cy="567.1" r="1.7" fill="#6eaeec" fill-opacity="0.7" stroke="#d5e8fa" stroke-width="0.4"/>
<circle cx="606.2" cy="599.9" r="1.7" fill="#6eaeec" fill-opacity="0.7" stroke="#d5e8fa" stroke-width="0.4"/>
<circle cx="610.9" cy="602.3" r="1.7" fill="#6eaeec" fill-opacity="0.7" stroke="#d5e8fa" stroke-width="0.4"/>
<circle cx="607.3" cy="570.8" r="1.7" fill="#6eaeec" fill-opacity="0.7" stroke="#d5e8fa" stroke-width="0.4"/>
<circle cx="607.9" cy="599.1" r="1.7" fill="#6eaeec" fill-opacity="0.7" stroke="#d5e8fa" stroke-width="0.4"/>
<circle cx="607.9" cy="564.8" r="1.7" fill="#6eaeec" fill-opacity="0.7" stroke="#d5e8fa" stroke-width="0.4"/>
<circle cx="613" cy="595.6" r="1.7" fill="#6eaeec" fill-opacity="0.7" stroke="#d5e8fa" stroke-width="0.4"/>
<circle cx="610" cy="610.7" r="1.7" fill="#6eaeec" fill-opacity="0.7" stroke="#d5e8fa" stroke-width="0.4"/>
<circle cx="611.9" cy="604.9" r="1.7" fill="#6eaeec" fill-opacity="0.7" stroke="#d5e8fa" stroke-width="0.4"/>
<circle cx="607.3" cy="597" r="1.7" fill="#6eaeec" fill-opacity="0.7" stroke="#d5e8fa" stroke-width="0.4"/>
<circle cx="612.3" cy="599.6" r="1.7" fill="#6eaeec" fill-opacity="0.7" stroke="#d5e8fa" stroke-width="0.4"/>
<circle cx="607.1" cy="596.7" r="1.7" fill="#6eaeec" fill-opacity="0.7" stroke="#d5e8fa" stroke-width="0.4"/>
<circle cx="611.2" cy="580.7" r="1.7" fill="#6eaeec" fill-opacity="0.7" stroke="#d5e8fa" stroke-width="0.4"/>
<circle cx="605.2" cy="591.3" r="1.7" fill="#6eaeec" fill-opacity="0.7" stroke="#d5e8fa" stroke-width="0.4"/>
<circle cx="605.6" cy="583" r="1.7" fill="#6eaeec" fill-opacity="0.7" stroke="#d5e8fa" stroke-width="0.4"/>
<circle cx="606.6" cy="593.5" r="1.7" fill="#6eaeec" fill-opacity="0.7" stroke="#d5e8fa" stroke-width="0.4"/>
<circle cx="607.5" cy="574.3" r="1.7" fill="#6eaeec" fill-opacity="0.7" stroke="#d5e8fa" stroke-width="0.4"/>
<circle cx="604.4" cy="570.1" r="1.7" fill="#6eaeec" fill-opacity="0.7" stroke="#d5e8fa" stroke-width="0.4"/>
<circle cx="610.4" cy="605.7" r="1.7" fill="#6eaeec" fill-opacity="0.7" stroke="#d5e8fa" stroke-width="0.4"/>
<circle cx="606" cy="604.6" r="1.7" fill="#6eaeec" fill-opacity="0.7" stroke="#d5e8fa" stroke-width="0.4"/>
<circle cx="606.5" cy="594.1" r="1.7" fill="#6eaeec" fill-opacity="0.7" stroke="#d5e8fa" stroke-width="0.4"/>
<circle cx="612.3" cy="597.2" r="1.7" fill="#6eaeec" fill-opacity="0.7" stroke="#d5e8fa" stroke-width="0.4"/>
<circle cx="606.9" cy="598.9" r="1.7" fill="#6eaeec" fill-opacity="0.7" stroke="#d5e8fa" stroke-width="0.4"/>
<circle cx="606.3" cy="593.9" r="1.7" fill="#6eaeec" fill-opacity="0.7" stroke="#d5e8fa" stroke-width="0.4"/>
<circle cx="606.7" cy="607.6" r="1.7" fill="#6eaeec" fill-opacity="0.7" stroke="#d5e8fa" stroke-width="0.4"/>
<circle cx="605.8" cy="591.5" r="1.7" fill="#6eaeec" fill-opacity="0.7" stroke="#d5e8fa" stroke-width="0.4"/>
<circle cx="611.4" cy="598.8" r="1.7" fill="#6eaeec" fill-opacity="0.7" stroke="#d5e8fa" stroke-width="0.4"/>
<circle cx="607.7" cy="571.2" r="1.7" fill="#6eaeec" fill-opacity="0.7" stroke="#d5e8fa" stroke-width="0.4"/>
<circle cx="611.9" cy="587.5" r="1.7" fill="#6eaeec" fill-opacity="0.7" stroke="#d5e8fa" stroke-width="0.4"/>
<circle cx="609.7" cy="592.1" r="1.7" fill="#6eaeec" fill-opacity="0.7" stroke="#d5e8fa" stroke-width="0.4"/>
<circle cx="606" cy="568.5" r="1.7" fill="#6eaeec" fill-opacity="0.7" stroke="#d5e8fa" stroke-width="0.4"/>
<circle cx="610.8" cy="609.5" r="1.7" fill="#6eaeec" fill-opacity="0.7" stroke="#d5e8fa" stroke-width="0.4"/>
<circle cx="612.5" cy="588.1" r="1.7" fill="#6eaeec" fill-opacity="0.7" stroke="#d5e8fa" stroke-width="0.4"/>
<circle cx="608" cy="601.1" r="1.7" fill="#6eaeec" fill-opacity="0.7" stroke="#d5e8fa" stroke-width="0.4"/>
<circle cx="608" cy="602" r="1.7" fill="#6eaeec" fill-opacity="0.7" stroke="#d5e8fa" stroke-width="0.4"/>
<circle cx="606.2" cy="594.9" r="1.7" fill="#6eaeec" fill-opacity="0.7" stroke="#d5e8fa" stroke-width="0.4"/>
<circle cx="607.3" cy="602.9" r="1.7" fill="#6eaeec" fill-opacity="0.7" stroke="#d5e8fa" stroke-width="0.4"/>
<circle cx="610.3" cy="570.4" r="1.7" fill="#6eaeec" fill-opacity="0.7" stroke="#d5e8fa" stroke-width="0.4"/>
<circle cx="607" cy="563.9" r="1.7" fill="#6eaeec" fill-opacity="0.7" stroke="#d5e8fa" stroke-width="0.4"/>
<circle cx="607.3" cy="605.9" r="1.7" fill="#6eaeec" fill-opacity="0.7" stroke="#d5e8fa" stroke-width="0.4"/>
<circle cx="610" cy="584.7" r="1.7" fill="#6eaeec" fill-opacity="0.7" stroke="#d5e8fa" stroke-width="0.4"/>
<circle cx="610.6" cy="605.6" r="1.7" fill="#6eaeec" fill-opacity="0.7" stroke="#d5e8fa" stroke-width="0.4"/>
<circle cx="611.2" cy="606.7" r="1.7" fill="#6eaeec" fill-opacity="0.7" stroke="#d5e8fa" stroke-width="0.4"/>
<circle cx="609.8" cy="567.7" r="1.7" fill="#6eaeec" fill-opacity="0.7" stroke="#d5e8fa" stroke-width="0.4"/>
<circle cx="611.2" cy="603.3" r="1.7" fill="#6eaeec" fill-opacity="0.7" stroke="#d5e8fa" stroke-width="0.4"/>
<circle cx="604.8" cy="601.1" r="1.7" fill="#6eaeec" fill-opacity="0.7" stroke="#d5e8fa" stroke-width="0.4"/>
<circle cx="611.6" cy="611.5" r="1.7" fill="#6eaeec" fill-opacity="0.7" stroke="#d5e8fa" stroke-width="0.4"/>
<circle cx="608.3" cy="603" r="1.7" fill="#6eaeec" fill-opacity="0.7" stroke="#d5e8fa" stroke-width="0.4"/>
<circle cx="612.5" cy="586.2" r="1.7" fill="#6eaeec" fill-opacity="0.7" stroke="#d5e8fa" stroke-width="0.4"/>
<circle cx="610.9" cy="607.6" r="1.7" fill="#6eaeec" fill-opacity="0.7" stroke="#d5e8fa" stroke-width="0.4"/>
<circle cx="605.1" cy="598.7" r="1.7" fill="#6eaeec" fill-opacity="0.7" stroke="#d5e8fa" stroke-width="0.4"/>
<circle cx="611.4" cy="608.7" r="1.7" fill="#6eaeec" fill-opacity="0.7" stroke="#d5e8fa" stroke-width="0.4"/>
<circle cx="610.5" cy="565" r="1.7" fill="#6eaeec" fill-opacity="0.7" stroke="#d5e8fa" stroke-width="0.4"/>
<circle cx="608" cy="578.2" r="1.7" fill="#6eaeec" fill-opacity="0.7" stroke="#d5e8fa" stroke-width="0.4"/>
<circle cx="605.3" cy="590.7" r="1.7" fill="#6eaeec" fill-opacity="0.7" stroke="#d5e8fa" stroke-width="0.4"/>
<circle cx="606.9" cy="611" r="1.7" fill="#6eaeec" fill-opacity="0.7" stroke="#d5e8fa" stroke-width="0.4"/>
<circle cx="608.1" cy="588.3" r="1.7" fill="#6eaeec" fill-opacity="0.7" stroke="#d5e8fa" stroke-width="0.4"/>
<circle cx="609.7" cy="598.3" r="1.7" fill="#6eaeec" fill-opacity="0.7" stroke="#d5e8fa" stroke-width="0.4"/>
<circle cx="610.9" cy="599.5" r="1.7" fill="#6eaeec" fill-opacity="0.7" stroke="#d5e8fa" stroke-width="0.4"/>
<circle cx="608.8" cy="587.6" r="1.7" fill="#6eaeec" fill-opacity="0.7" stroke="#d5e8fa" stroke-width="0.4"/>
<circle cx="607.5" cy="565" r="1.7" fill="#6eaeec" fill-opacity="0.7" stroke="#d5e8fa" stroke-width="0.4"/>
<circle cx="607.8" cy="595.8" r="1.7" fill="#6eaeec" fill-opacity="0.7" stroke="#d5e8fa" stroke-width="0.4"/>
<circle cx="406.8" cy="550.4" r="1.8" fill="#7cb9f0" fill-opacity="0.75"/>
<circle cx="472.3" cy="515.6" r="1.8" fill="#7cb9f0" fill-opacity="0.75"/>
<circle cx="473" cy="525.8" r="1.8" fill="#7cb9f0" fill-opacity="0.75"/>
<circle cx="545.1" cy="499.2" r="1.8" fill="#7cb9f0" fill-opacity="0.75"/>
<circle cx="609.4" cy="549.5" r="1.8" fill="#7cb9f0" fill-opacity="0.75"/>
<polyline points="412.2,582.1 477.7,586.8 543.5,591.6 609.4,595.4" fill="none" stroke="#9933ff" stroke-width="1.2" stroke-dasharray="3 2"/>
<line x1="737.8" y1="482.4" x2="737.8" y2="665" stroke="#cccccc" stroke-width="0.9"/>
<line x1="752.6" y1="482.4" x2="752.6" y2="665" stroke="#cccccc" stroke-width="0.9"/>
<line x1="767.3" y1="482.4" x2="767.3" y2="665" stroke="#cccccc" stroke-width="0.9"/>
<line x1="782.1" y1="482.4" x2="782.1" y2="665" stroke="#cccccc" stroke-width="0.9"/>
<line x1="796.9" y1="482.4" x2="796.9" y2="665" stroke="#cccccc" stroke-width="0.9"/>
<line x1="811.6" y1="482.4" x2="811.6" y2="665" stroke="#cccccc" stroke-width="0.9"/>
<line x1="826.4" y1="482.4" x2="826.4" y2="665" stroke="#cccccc" stroke-width="0.9"/>
<line x1="841.2" y1="482.4" x2="841.2" y2="665" stroke="#cccccc" stroke-width="0.9"/>
<line x1="855.9" y1="482.4" x2="855.9" y2="665" stroke="#cccccc" stroke-width="0.9"/>
<line x1="870.7" y1="482.4" x2="870.7" y2="665" stroke="#cccccc" stroke-width="0.9"/>
<line x1="885.5" y1="482.4" x2="885.5" y2="665" stroke="#cccccc" stroke-width="0.9"/>
<line x1="900.2" y1="482.4" x2="900.2" y2="665" stroke="#cccccc" stroke-width="0.9"/>
<line x1="915" y1="482.4" x2="915" y2="665" stroke="#cccccc" stroke-width="0.9"/>
<line x1="929.8" y1="482.4" x2="929.8" y2="665" stroke="#cccccc" stroke-width="0.9"/>
<line x1="944.5" y1="482.4" x2="944.5" y2="665" stroke="#cccccc" stroke-width="0.9"/>
<line x1="959.3" y1="482.4" x2="959.3" y2="665" stroke="#cccccc" stroke-width="0.9"/>
<line x1="974.1" y1="482.4" x2="974.1" y2="665" stroke="#cccccc" stroke-width="0.9"/>
<line x1="988.8" y1="482.4" x2="988.8" y2="665" stroke="#cccccc" stroke-width="0.9"/>
<line x1="737.8" y1="482.4" x2="988.8" y2="482.4" stroke="#cccccc" stroke-width="0.9"/>
<line x1="737.8" y1="500.7" x2="988.8" y2="500.7" stroke="#cccccc" stroke-width="0.9"/>
<line x1="737.8" y1="518.9" x2="988.8" y2="518.9" stroke="#cccccc" stroke-width="0.9"/>
<line x1="737.8" y1="537.2" x2="988.8" y2="537.2" stroke="#cccccc" stroke-width="0.9"/>
<line x1="737.8" y1="555.5" x2="988.8" y2="555.5" stroke="#cccccc" stroke-width="0.9"/>
<line x1="737.8" y1="573.7" x2="988.8" y2="573.7" stroke="#cccccc" stroke-width="0.9"/>
<line x1="737.8" y1="592" x2="988.8" y2="592" stroke="#cccccc" stroke-width="0.9"/>
<line x1="737.8" y1="610.3" x2="988.8" y2="610.3" stroke="#cccccc" stroke-width="0.9"/>
<line x1="737.8" y1="628.5" x2="988.8" y2="628.5" stroke="#cccccc" stroke-width="0.9"/>
<line x1="737.8" y1="646.8" x2="988.8" y2="646.8" stroke="#cccccc" stroke-width="0.9"/>
<line x1="737.8" y1="665.1" x2="988.8" y2="665.1" stroke="#cccccc" stroke-width="0.9"/>
<text x="733.8" y="483.4" class="tk">100</text>
<text x="992.5" y="483.4" class="tk">100</text>
<text x="733.8" y="519.9" class="tk">80</text>
<text x="992.5" y="519.9" class="tk">80</text>
<text x="733.8" y="556.5" class="tk">60</text>
<text x="992.5" y="556.5" class="tk">60</text>
<text x="733.8" y="593" class="tk">40</text>
<text x="992.5" y="593" class="tk">40</text>
<text x="733.8" y="629.5" class="tk">20</text>
<text x="992.5" y="629.5" class="tk">20</text>
<text x="733.8" y="666.1" class="tk">0</text>
<text x="992.5" y="666.1" class="tk">0</text>
<rect x="740.4" y="489.4" width="10" height="175.7" fill="#ffd966" stroke="#6b5a2a" stroke-width="1"/>
<line x1="745.4" y1="484.6" x2="745.4" y2="493.6" stroke="#c9a227" stroke-width="1.1"/>
<line x1="740.4" y1="484.6" x2="750.4" y2="484.6" stroke="#c9a227" stroke-width="1.2"/>
<line x1="740.4" y1="493.6" x2="750.4" y2="493.6" stroke="#c9a227" stroke-width="1.2"/>
<rect x="755.1" y="508.7" width="10" height="156.4" fill="#ffd966" stroke="#6b5a2a" stroke-width="1"/>
<line x1="760.1" y1="505.5" x2="760.1" y2="511.5" stroke="#c9a227" stroke-width="1.1"/>
<line x1="755.1" y1="505.5" x2="765.1" y2="505.5" stroke="#c9a227" stroke-width="1.2"/>
<line x1="755.1" y1="511.5" x2="765.1" y2="511.5" stroke="#c9a227" stroke-width="1.2"/>
<rect x="769.7" y="623.9" width="10" height="41.2" fill="#ffd966" stroke="#6b5a2a" stroke-width="1"/>
<line x1="774.7" y1="621.7" x2="774.7" y2="625.9" stroke="#c9a227" stroke-width="1.1"/>
<line x1="769.7" y1="621.7" x2="779.7" y2="621.7" stroke="#c9a227" stroke-width="1.2"/>
<line x1="769.7" y1="625.9" x2="779.7" y2="625.9" stroke="#c9a227" stroke-width="1.2"/>
<rect x="784.4" y="634.4" width="10" height="30.7" fill="#ffd966" stroke="#6b5a2a" stroke-width="1"/>
<line x1="789.4" y1="631.2" x2="789.4" y2="637.2" stroke="#c9a227" stroke-width="1.1"/>
<line x1="784.4" y1="631.2" x2="794.4" y2="631.2" stroke="#c9a227" stroke-width="1.2"/>
<line x1="784.4" y1="637.2" x2="794.4" y2="637.2" stroke="#c9a227" stroke-width="1.2"/>
<rect x="799.1" y="632.8" width="10" height="32.3" fill="#ffd966" stroke="#6b5a2a" stroke-width="1"/>
<line x1="804.1" y1="628" x2="804.1" y2="637" stroke="#c9a227" stroke-width="1.1"/>
<line x1="799.1" y1="628" x2="809.1" y2="628" stroke="#c9a227" stroke-width="1.2"/>
<line x1="799.1" y1="637" x2="809.1" y2="637" stroke="#c9a227" stroke-width="1.2"/>
<rect x="813.8" y="644.5" width="10" height="20.6" fill="#ffd966" stroke="#6b5a2a" stroke-width="1"/>
<line x1="818.8" y1="641.6" x2="818.8" y2="647.1" stroke="#c9a227" stroke-width="1.1"/>
<line x1="813.8" y1="641.6" x2="823.8" y2="641.6" stroke="#c9a227" stroke-width="1.2"/>
<line x1="813.8" y1="647.1" x2="823.8" y2="647.1" stroke="#c9a227" stroke-width="1.2"/>
<rect x="828.5" y="649.6" width="10" height="15.5" fill="#ffd966" stroke="#6b5a2a" stroke-width="1"/>
<line x1="833.5" y1="647" x2="833.5" y2="651.8" stroke="#c9a227" stroke-width="1.1"/>
<line x1="828.5" y1="647" x2="838.5" y2="647" stroke="#c9a227" stroke-width="1.2"/>
<line x1="828.5" y1="651.8" x2="838.5" y2="651.8" stroke="#c9a227" stroke-width="1.2"/>
<rect x="843.2" y="651.8" width="10" height="13.3" fill="#ffd966" stroke="#6b5a2a" stroke-width="1"/>
<line x1="848.2" y1="648.6" x2="848.2" y2="654.6" stroke="#c9a227" stroke-width="1.1"/>
<line x1="843.2" y1="648.6" x2="853.2" y2="648.6" stroke="#c9a227" stroke-width="1.2"/>
<line x1="843.2" y1="654.6" x2="853.2" y2="654.6" stroke="#c9a227" stroke-width="1.2"/>
<rect x="857.8" y="658.4" width="10" height="6.6" fill="#ffd966" stroke="#6b5a2a" stroke-width="1"/>
<line x1="862.8" y1="657.1" x2="862.8" y2="659.6" stroke="#c9a227" stroke-width="1.1"/>
<line x1="857.8" y1="657.1" x2="867.8" y2="657.1" stroke="#c9a227" stroke-width="1.2"/>
<line x1="857.8" y1="659.6" x2="867.8" y2="659.6" stroke="#c9a227" stroke-width="1.2"/>
<rect x="872.5" y="658.7" width="10" height="6.3" fill="#ffd966" stroke="#6b5a2a" stroke-width="1"/>
<line x1="877.5" y1="657.5" x2="877.5" y2="659.9" stroke="#c9a227" stroke-width="1.1"/>
<line x1="872.5" y1="657.5" x2="882.5" y2="657.5" stroke="#c9a227" stroke-width="1.2"/>
<line x1="872.5" y1="659.9" x2="882.5" y2="659.9" stroke="#c9a227" stroke-width="1.2"/>
<rect x="887.2" y="658.7" width="10" height="6.3" fill="#ffd966" stroke="#6b5a2a" stroke-width="1"/>
<line x1="892.2" y1="657.5" x2="892.2" y2="659.9" stroke="#c9a227" stroke-width="1.1"/>
<line x1="887.2" y1="657.5" x2="897.2" y2="657.5" stroke="#c9a227" stroke-width="1.2"/>
<line x1="887.2" y1="659.9" x2="897.2" y2="659.9" stroke="#c9a227" stroke-width="1.2"/>
<rect x="901.9" y="659.7" width="10" height="5.4" fill="#ffd966" stroke="#6b5a2a" stroke-width="1"/>
<line x1="906.9" y1="658.7" x2="906.9" y2="660.5" stroke="#c9a227" stroke-width="1.1"/>
<line x1="901.9" y1="658.7" x2="911.9" y2="658.7" stroke="#c9a227" stroke-width="1.2"/>
<line x1="901.9" y1="660.5" x2="911.9" y2="660.5" stroke="#c9a227" stroke-width="1.2"/>
<rect x="916.6" y="659.7" width="10" height="5.4" fill="#ffd966" stroke="#6b5a2a" stroke-width="1"/>
<line x1="921.6" y1="658.7" x2="921.6" y2="660.5" stroke="#c9a227" stroke-width="1.1"/>
<line x1="916.6" y1="658.7" x2="926.6" y2="658.7" stroke="#c9a227" stroke-width="1.2"/>
<line x1="916.6" y1="660.5" x2="926.6" y2="660.5" stroke="#c9a227" stroke-width="1.2"/>
<rect x="931.2" y="660" width="10" height="5.1" fill="#ffd966" stroke="#6b5a2a" stroke-width="1"/>
<line x1="936.2" y1="659" x2="936.2" y2="660.9" stroke="#c9a227" stroke-width="1.1"/>
<line x1="931.2" y1="659" x2="941.2" y2="659" stroke="#c9a227" stroke-width="1.2"/>
<line x1="931.2" y1="660.9" x2="941.2" y2="660.9" stroke="#c9a227" stroke-width="1.2"/>
<rect x="945.9" y="661.3" width="10" height="3.8" fill="#ffd966" stroke="#6b5a2a" stroke-width="1"/>
<line x1="950.9" y1="660.3" x2="950.9" y2="662.1" stroke="#c9a227" stroke-width="1.1"/>
<line x1="945.9" y1="660.3" x2="955.9" y2="660.3" stroke="#c9a227" stroke-width="1.2"/>
<line x1="945.9" y1="662.1" x2="955.9" y2="662.1" stroke="#c9a227" stroke-width="1.2"/>
<rect x="960.6" y="663.5" width="10" height="1.6" fill="#ffd966" stroke="#6b5a2a" stroke-width="1"/>
<line x1="965.6" y1="662.8" x2="965.6" y2="664.1" stroke="#c9a227" stroke-width="1.1"/>
<line x1="960.6" y1="662.8" x2="970.6" y2="662.8" stroke="#c9a227" stroke-width="1.2"/>
<line x1="960.6" y1="664.1" x2="970.6" y2="664.1" stroke="#c9a227" stroke-width="1.2"/>
<rect x="975.3" y="664.1" width="10" height="0.9" fill="#ffd966" stroke="#6b5a2a" stroke-width="1"/>
<line x1="980.3" y1="663.5" x2="980.3" y2="664.7" stroke="#c9a227" stroke-width="1.1"/>
<line x1="975.3" y1="663.5" x2="985.3" y2="663.5" stroke="#c9a227" stroke-width="1.2"/>
<line x1="975.3" y1="664.7" x2="985.3" y2="664.7" stroke="#c9a227" stroke-width="1.2"/>
<polyline points="766.3,535.3 774.8,526.7 789.7,512.5 804.6,503 819.5,495.1 829,491.6 841.6,487.2 854.3,484 870.1,482.1" fill="none" stroke="#ff3dff" stroke-width="1.8" stroke-dasharray="0.1 4.2" stroke-linecap="round"/>
<polyline points="766.3,537.2 774.8,532.1 789.7,523.6 804.6,515.3 819.5,509.3 833.7,505.5 848.3,502 862.8,499.2 877.7,497.3 892.3,495.7 907.1,494.8 921.7,494.1 936.3,493.5 951.2,493.2 965.7,492.9 977.7,492.9" fill="none" stroke="#ff3dff" stroke-width="1.8" stroke-dasharray="0.1 4.2" stroke-linecap="round"/>
<polyline points="745.4,601.1 760.3,543.5 766.3,536.2 774.8,528.9 789.7,518.8 804.3,509.3 819.1,502 833.7,497.6 848.3,493.5 862.8,491.3 877.7,489.7 892.3,487.8 907.1,486.2 921.7,484.6 936.3,483.4 951.2,482.4 965.7,482.4 980.3,482.4" fill="none" stroke="#f01cf0" stroke-width="2.3" stroke-linejoin="round"/>
<circle cx="745.4" cy="601.1" r="2.7" fill="#f01cf0"/>
<circle cx="760.3" cy="543.5" r="2.7" fill="#f01cf0"/>
<circle cx="774.8" cy="528.9" r="2.7" fill="#f01cf0"/>
<circle cx="789.7" cy="518.8" r="2.7" fill="#f01cf0"/>
<circle cx="804.3" cy="509.3" r="2.7" fill="#f01cf0"/>
<circle cx="819.1" cy="502" r="2.7" fill="#f01cf0"/>
<circle cx="833.7" cy="497.6" r="2.7" fill="#f01cf0"/>
<circle cx="848.3" cy="493.5" r="2.7" fill="#f01cf0"/>
<circle cx="862.8" cy="491.3" r="2.7" fill="#f01cf0"/>
<circle cx="877.7" cy="489.7" r="2.7" fill="#f01cf0"/>
<circle cx="892.3" cy="487.8" r="2.7" fill="#f01cf0"/>
<circle cx="907.1" cy="486.2" r="2.7" fill="#f01cf0"/>
<circle cx="921.7" cy="484.6" r="2.7" fill="#f01cf0"/>
<circle cx="936.3" cy="483.4" r="2.7" fill="#f01cf0"/>
<circle cx="951.2" cy="482.4" r="2.7" fill="#f01cf0"/>
<circle cx="965.7" cy="482.4" r="2.7" fill="#f01cf0"/>
<circle cx="980.3" cy="482.4" r="2.7" fill="#f01cf0"/>
<rect x="20" y="117.5" width="280" height="197.3" fill="none" stroke="#3c3c3c" stroke-width="1.4" stroke-dasharray="4.6 3.4"/>
<rect x="371.2" y="117.3" width="280.5" height="197.5" fill="none" stroke="#3c3c3c" stroke-width="1.4" stroke-dasharray="4.6 3.4"/>
<rect x="722.8" y="117.5" width="280.5" height="197.2" fill="none" stroke="#3c3c3c" stroke-width="1.4" stroke-dasharray="4.6 3.4"/>
<rect x="20.1" y="475" width="280.4" height="197.5" fill="none" stroke="#3c3c3c" stroke-width="1.4" stroke-dasharray="4.6 3.4"/>
<rect x="371.7" y="475.4" width="279.4" height="196.9" fill="none" stroke="#3c3c3c" stroke-width="1.4" stroke-dasharray="4.6 3.4"/>
<rect x="722.9" y="475.4" width="280.1" height="196.9" fill="none" stroke="#3c3c3c" stroke-width="1.4" stroke-dasharray="4.6 3.4"/>
</svg>
</body></html>
